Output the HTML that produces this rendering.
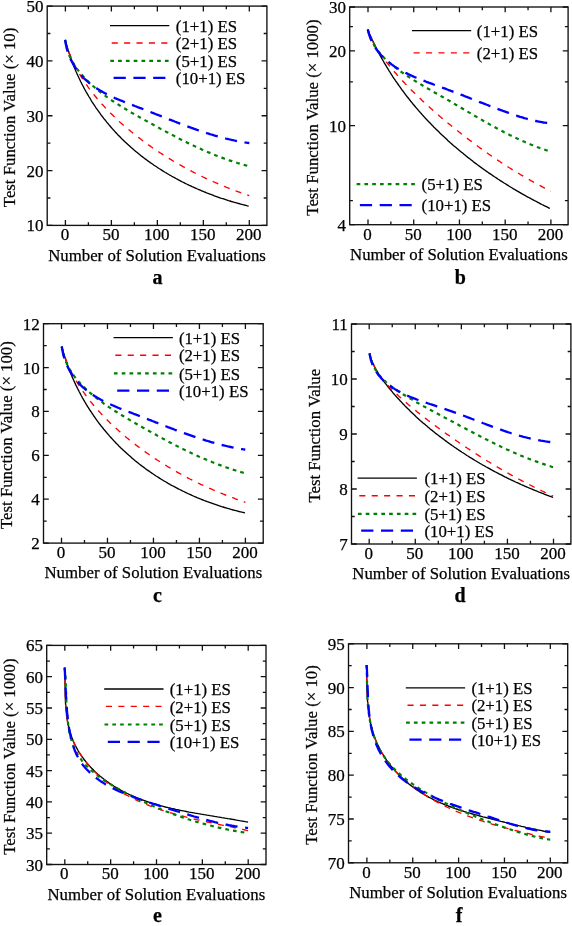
<!DOCTYPE html>
<html><head><meta charset="utf-8"><style>
html,body{margin:0;padding:0;background:#fff;}
svg{display:block;will-change:transform;filter:blur(0.3px);}
text{font-family:"Liberation Serif",serif;font-size:16.8px;fill:#000;stroke:#000;stroke-width:0.25px;}
.tk{font-size:17px;}
.lt{font-size:20px;font-weight:bold;}
</style></head><body>
<svg width="572" height="926" viewBox="0 0 572 926">
<rect x="47.2" y="6.1" width="219.7" height="219.3" fill="none" stroke="#111" stroke-width="1.35"/>
<path d="M65.4 225.4v-5.3M65.4 6.1v5.3M111.38 225.4v-5.3M111.38 6.1v5.3M157.35 225.4v-5.3M157.35 6.1v5.3M203.33 225.4v-5.3M203.33 6.1v5.3M249.3 225.4v-5.3M249.3 6.1v5.3M88.39 225.4v-3.2M88.39 6.1v3.2M134.36 225.4v-3.2M134.36 6.1v3.2M180.34 225.4v-3.2M180.34 6.1v3.2M226.31 225.4v-3.2M226.31 6.1v3.2M47.2 225.4h5.3M266.9 225.4h-5.3M47.2 170.57h5.3M266.9 170.57h-5.3M47.2 115.75h5.3M266.9 115.75h-5.3M47.2 60.93h5.3M266.9 60.93h-5.3M47.2 6.1h5.3M266.9 6.1h-5.3M47.2 197.99h3.2M266.9 197.99h-3.2M47.2 143.16h3.2M266.9 143.16h-3.2M47.2 88.34h3.2M266.9 88.34h-3.2M47.2 33.51h3.2M266.9 33.51h-3.2" stroke="#111" stroke-width="1.3" fill="none"/>
<text x="43.5" y="231.4" text-anchor="end" class="tk">10</text>
<text x="43.5" y="176.57" text-anchor="end" class="tk">20</text>
<text x="43.5" y="121.75" text-anchor="end" class="tk">30</text>
<text x="43.5" y="66.93" text-anchor="end" class="tk">40</text>
<text x="43.5" y="12.1" text-anchor="end" class="tk">50</text>
<text x="64.9" y="240.2" text-anchor="middle" class="tk">0</text>
<text x="110.88" y="240.2" text-anchor="middle" class="tk">50</text>
<text x="156.85" y="240.2" text-anchor="middle" class="tk">100</text>
<text x="202.83" y="240.2" text-anchor="middle" class="tk">150</text>
<text x="248.8" y="240.2" text-anchor="middle" class="tk">200</text>
<text x="157.05" y="260.7" text-anchor="middle">Number of Solution Evaluations</text>
<text transform="translate(15.3 117.45) rotate(-90)" text-anchor="middle">Test Function Value (× 10)</text>
<text x="157.6" y="284.2" text-anchor="middle" font-weight="bold" class="lt">a</text>
<rect x="349.7" y="7" width="218.4" height="217.7" fill="none" stroke="#111" stroke-width="1.35"/>
<path d="M368 224.7v-5.3M368 7v5.3M413.73 224.7v-5.3M413.73 7v5.3M459.45 224.7v-5.3M459.45 7v5.3M505.17 224.7v-5.3M505.17 7v5.3M550.9 224.7v-5.3M550.9 7v5.3M390.86 224.7v-3.2M390.86 7v3.2M436.59 224.7v-3.2M436.59 7v3.2M482.31 224.7v-3.2M482.31 7v3.2M528.04 224.7v-3.2M528.04 7v3.2M349.7 224.7h5.3M568.1 224.7h-5.3M349.7 125.7h5.3M568.1 125.7h-5.3M349.7 50.81h5.3M568.1 50.81h-5.3M349.7 7h5.3M568.1 7h-5.3M349.7 200.59h3.2M568.1 200.59h-3.2M349.7 81.89h3.2M568.1 81.89h-3.2M349.7 26.7h3.2M568.1 26.7h-3.2" stroke="#111" stroke-width="1.3" fill="none"/>
<text x="346" y="230.7" text-anchor="end" class="tk">4</text>
<text x="346" y="131.7" text-anchor="end" class="tk">10</text>
<text x="346" y="56.81" text-anchor="end" class="tk">20</text>
<text x="346" y="13" text-anchor="end" class="tk">30</text>
<text x="367.5" y="239.5" text-anchor="middle" class="tk">0</text>
<text x="413.23" y="239.5" text-anchor="middle" class="tk">50</text>
<text x="458.95" y="239.5" text-anchor="middle" class="tk">100</text>
<text x="504.67" y="239.5" text-anchor="middle" class="tk">150</text>
<text x="550.4" y="239.5" text-anchor="middle" class="tk">200</text>
<text x="458.9" y="260" text-anchor="middle">Number of Solution Evaluations</text>
<text transform="translate(317.8 117.55) rotate(-90)" text-anchor="middle">Test Function Value (× 1000)</text>
<text x="460.3" y="284.2" text-anchor="middle" font-weight="bold" class="lt">b</text>
<rect x="43.5" y="323.7" width="219.7" height="219.4" fill="none" stroke="#111" stroke-width="1.35"/>
<path d="M61.5 543.1v-5.3M61.5 323.7v5.3M107.47 543.1v-5.3M107.47 323.7v5.3M153.45 543.1v-5.3M153.45 323.7v5.3M199.43 543.1v-5.3M199.43 323.7v5.3M245.4 543.1v-5.3M245.4 323.7v5.3M84.49 543.1v-3.2M84.49 323.7v3.2M130.46 543.1v-3.2M130.46 323.7v3.2M176.44 543.1v-3.2M176.44 323.7v3.2M222.41 543.1v-3.2M222.41 323.7v3.2M43.5 543.1h5.3M263.2 543.1h-5.3M43.5 499.22h5.3M263.2 499.22h-5.3M43.5 455.34h5.3M263.2 455.34h-5.3M43.5 411.46h5.3M263.2 411.46h-5.3M43.5 367.58h5.3M263.2 367.58h-5.3M43.5 323.7h5.3M263.2 323.7h-5.3M43.5 521.16h3.2M263.2 521.16h-3.2M43.5 477.28h3.2M263.2 477.28h-3.2M43.5 433.4h3.2M263.2 433.4h-3.2M43.5 389.52h3.2M263.2 389.52h-3.2M43.5 345.64h3.2M263.2 345.64h-3.2" stroke="#111" stroke-width="1.3" fill="none"/>
<text x="39.8" y="549.1" text-anchor="end" class="tk">2</text>
<text x="39.8" y="505.22" text-anchor="end" class="tk">4</text>
<text x="39.8" y="461.34" text-anchor="end" class="tk">6</text>
<text x="39.8" y="417.46" text-anchor="end" class="tk">8</text>
<text x="39.8" y="373.58" text-anchor="end" class="tk">10</text>
<text x="39.8" y="329.7" text-anchor="end" class="tk">12</text>
<text x="61" y="557.9" text-anchor="middle" class="tk">0</text>
<text x="106.97" y="557.9" text-anchor="middle" class="tk">50</text>
<text x="152.95" y="557.9" text-anchor="middle" class="tk">100</text>
<text x="198.93" y="557.9" text-anchor="middle" class="tk">150</text>
<text x="244.9" y="557.9" text-anchor="middle" class="tk">200</text>
<text x="153.35" y="578.4" text-anchor="middle">Number of Solution Evaluations</text>
<text transform="translate(11.6 435.1) rotate(-90)" text-anchor="middle">Test Function Value (× 100)</text>
<text x="157.5" y="602.4" text-anchor="middle" font-weight="bold" class="lt">c</text>
<rect x="351.5" y="324" width="219.4" height="220" fill="none" stroke="#111" stroke-width="1.35"/>
<path d="M369.2 544v-5.3M369.2 324v5.3M415.27 544v-5.3M415.27 324v5.3M461.35 544v-5.3M461.35 324v5.3M507.42 544v-5.3M507.42 324v5.3M553.5 544v-5.3M553.5 324v5.3M392.24 544v-3.2M392.24 324v3.2M438.31 544v-3.2M438.31 324v3.2M484.39 544v-3.2M484.39 324v3.2M530.46 544v-3.2M530.46 324v3.2M351.5 544h5.3M570.9 544h-5.3M351.5 489h5.3M570.9 489h-5.3M351.5 434h5.3M570.9 434h-5.3M351.5 379h5.3M570.9 379h-5.3M351.5 324h5.3M570.9 324h-5.3M351.5 516.5h3.2M570.9 516.5h-3.2M351.5 461.5h3.2M570.9 461.5h-3.2M351.5 406.5h3.2M570.9 406.5h-3.2M351.5 351.5h3.2M570.9 351.5h-3.2" stroke="#111" stroke-width="1.3" fill="none"/>
<text x="347.8" y="550" text-anchor="end" class="tk">7</text>
<text x="347.8" y="495" text-anchor="end" class="tk">8</text>
<text x="347.8" y="440" text-anchor="end" class="tk">9</text>
<text x="347.8" y="385" text-anchor="end" class="tk">10</text>
<text x="347.8" y="330" text-anchor="end" class="tk">11</text>
<text x="368.7" y="558.8" text-anchor="middle" class="tk">0</text>
<text x="414.77" y="558.8" text-anchor="middle" class="tk">50</text>
<text x="460.85" y="558.8" text-anchor="middle" class="tk">100</text>
<text x="506.92" y="558.8" text-anchor="middle" class="tk">150</text>
<text x="553" y="558.8" text-anchor="middle" class="tk">200</text>
<text x="461.2" y="579.3" text-anchor="middle">Number of Solution Evaluations</text>
<text transform="translate(319.6 435.7) rotate(-90)" text-anchor="middle">Test Function Value</text>
<text x="460.1" y="602.4" text-anchor="middle" font-weight="bold" class="lt">d</text>
<rect x="46.7" y="645.4" width="219.3" height="219.1" fill="none" stroke="#111" stroke-width="1.35"/>
<path d="M64.8 864.5v-5.3M64.8 645.4v5.3M110.65 864.5v-5.3M110.65 645.4v5.3M156.5 864.5v-5.3M156.5 645.4v5.3M202.35 864.5v-5.3M202.35 645.4v5.3M248.2 864.5v-5.3M248.2 645.4v5.3M87.72 864.5v-3.2M87.72 645.4v3.2M133.57 864.5v-3.2M133.57 645.4v3.2M179.43 864.5v-3.2M179.43 645.4v3.2M225.27 864.5v-3.2M225.27 645.4v3.2M46.7 864.5h5.3M266 864.5h-5.3M46.7 833.2h5.3M266 833.2h-5.3M46.7 801.9h5.3M266 801.9h-5.3M46.7 770.6h5.3M266 770.6h-5.3M46.7 739.3h5.3M266 739.3h-5.3M46.7 708h5.3M266 708h-5.3M46.7 676.7h5.3M266 676.7h-5.3M46.7 645.4h5.3M266 645.4h-5.3M46.7 848.85h3.2M266 848.85h-3.2M46.7 817.55h3.2M266 817.55h-3.2M46.7 786.25h3.2M266 786.25h-3.2M46.7 754.95h3.2M266 754.95h-3.2M46.7 723.65h3.2M266 723.65h-3.2M46.7 692.35h3.2M266 692.35h-3.2M46.7 661.05h3.2M266 661.05h-3.2" stroke="#111" stroke-width="1.3" fill="none"/>
<text x="43" y="870.5" text-anchor="end" class="tk">30</text>
<text x="43" y="839.2" text-anchor="end" class="tk">35</text>
<text x="43" y="807.9" text-anchor="end" class="tk">40</text>
<text x="43" y="776.6" text-anchor="end" class="tk">45</text>
<text x="43" y="745.3" text-anchor="end" class="tk">50</text>
<text x="43" y="714" text-anchor="end" class="tk">55</text>
<text x="43" y="682.7" text-anchor="end" class="tk">60</text>
<text x="43" y="651.4" text-anchor="end" class="tk">65</text>
<text x="64.3" y="879.3" text-anchor="middle" class="tk">0</text>
<text x="110.15" y="879.3" text-anchor="middle" class="tk">50</text>
<text x="156" y="879.3" text-anchor="middle" class="tk">100</text>
<text x="201.85" y="879.3" text-anchor="middle" class="tk">150</text>
<text x="247.7" y="879.3" text-anchor="middle" class="tk">200</text>
<text x="156.35" y="899.8" text-anchor="middle">Number of Solution Evaluations</text>
<text transform="translate(14.8 756.65) rotate(-90)" text-anchor="middle">Test Function Value (× 1000)</text>
<text x="157.5" y="921.6" text-anchor="middle" font-weight="bold" class="lt">e</text>
<rect x="348.5" y="643.8" width="219.2" height="219" fill="none" stroke="#111" stroke-width="1.35"/>
<path d="M366.9 862.8v-5.3M366.9 643.8v5.3M412.75 862.8v-5.3M412.75 643.8v5.3M458.6 862.8v-5.3M458.6 643.8v5.3M504.45 862.8v-5.3M504.45 643.8v5.3M550.3 862.8v-5.3M550.3 643.8v5.3M389.82 862.8v-3.2M389.82 643.8v3.2M435.67 862.8v-3.2M435.67 643.8v3.2M481.52 862.8v-3.2M481.52 643.8v3.2M527.38 862.8v-3.2M527.38 643.8v3.2M348.5 862.8h5.3M567.7 862.8h-5.3M348.5 819h5.3M567.7 819h-5.3M348.5 775.2h5.3M567.7 775.2h-5.3M348.5 731.4h5.3M567.7 731.4h-5.3M348.5 687.6h5.3M567.7 687.6h-5.3M348.5 643.8h5.3M567.7 643.8h-5.3M348.5 840.9h3.2M567.7 840.9h-3.2M348.5 797.1h3.2M567.7 797.1h-3.2M348.5 753.3h3.2M567.7 753.3h-3.2M348.5 709.5h3.2M567.7 709.5h-3.2M348.5 665.7h3.2M567.7 665.7h-3.2" stroke="#111" stroke-width="1.3" fill="none"/>
<text x="344.8" y="868.8" text-anchor="end" class="tk">70</text>
<text x="344.8" y="825" text-anchor="end" class="tk">75</text>
<text x="344.8" y="781.2" text-anchor="end" class="tk">80</text>
<text x="344.8" y="737.4" text-anchor="end" class="tk">85</text>
<text x="344.8" y="693.6" text-anchor="end" class="tk">90</text>
<text x="344.8" y="649.8" text-anchor="end" class="tk">95</text>
<text x="366.4" y="877.6" text-anchor="middle" class="tk">0</text>
<text x="412.25" y="877.6" text-anchor="middle" class="tk">50</text>
<text x="458.1" y="877.6" text-anchor="middle" class="tk">100</text>
<text x="503.95" y="877.6" text-anchor="middle" class="tk">150</text>
<text x="549.8" y="877.6" text-anchor="middle" class="tk">200</text>
<text x="458.1" y="898.1" text-anchor="middle">Number of Solution Evaluations</text>
<text transform="translate(316.6 755) rotate(-90)" text-anchor="middle">Test Function Value (× 10)</text>
<text x="459.2" y="921.6" text-anchor="middle" font-weight="bold" class="lt">f</text>
<path d="M110 25.6H169.3" stroke="#000" stroke-width="1.35" fill="none"/>
<text x="175.8" y="31.7">(1+1) ES</text>
<path d="M111.7 43H169.3" stroke="#ff0000" stroke-width="1.35" fill="none" stroke-dasharray="6.1 6.3"/>
<text x="175.8" y="49.1">(2+1) ES</text>
<path d="M110.3 60.9H169.3" stroke="#008000" stroke-width="2.2" fill="none" stroke-dasharray="3.7 4.1"/>
<text x="175.8" y="67">(5+1) ES</text>
<path d="M113.6 77.9H169.3" stroke="#0000ff" stroke-width="2.3" fill="none" stroke-dasharray="12.2 7.6"/>
<text x="175.8" y="84">(10+1) ES</text>
<path d="M411.9 30.6H471.2" stroke="#000" stroke-width="1.35" fill="none"/>
<text x="476.8" y="36.7">(1+1) ES</text>
<path d="M413.6 52.8H471.2" stroke="#ff0000" stroke-width="1.35" fill="none" stroke-dasharray="6.1 6.3"/>
<text x="476.8" y="58.9">(2+1) ES</text>
<path d="M356.6 184.1H415.6" stroke="#008000" stroke-width="2.2" fill="none" stroke-dasharray="3.7 4.1"/>
<text x="421.6" y="190.2">(5+1) ES</text>
<path d="M359.9 205.2H415.6" stroke="#0000ff" stroke-width="2.3" fill="none" stroke-dasharray="12.2 7.6"/>
<text x="421.6" y="211.3">(10+1) ES</text>
<path d="M113.6 337.6H172.9" stroke="#000" stroke-width="1.35" fill="none"/>
<text x="178.9" y="343.7">(1+1) ES</text>
<path d="M115.3 355.2H172.9" stroke="#ff0000" stroke-width="1.35" fill="none" stroke-dasharray="6.1 6.3"/>
<text x="178.9" y="361.3">(2+1) ES</text>
<path d="M113.9 373.4H172.9" stroke="#008000" stroke-width="2.2" fill="none" stroke-dasharray="3.7 4.1"/>
<text x="178.9" y="379.5">(5+1) ES</text>
<path d="M117.2 390.7H172.9" stroke="#0000ff" stroke-width="2.3" fill="none" stroke-dasharray="12.2 7.6"/>
<text x="178.9" y="396.8">(10+1) ES</text>
<path d="M357.6 478.1H416.9" stroke="#000" stroke-width="1.35" fill="none"/>
<text x="424.5" y="484.2">(1+1) ES</text>
<path d="M359.3 495.7H416.9" stroke="#ff0000" stroke-width="1.35" fill="none" stroke-dasharray="6.1 6.3"/>
<text x="424.5" y="501.8">(2+1) ES</text>
<path d="M357.9 513.8H416.9" stroke="#008000" stroke-width="2.2" fill="none" stroke-dasharray="3.7 4.1"/>
<text x="424.5" y="519.9">(5+1) ES</text>
<path d="M361.2 530.6H416.9" stroke="#0000ff" stroke-width="2.3" fill="none" stroke-dasharray="12.2 7.6"/>
<text x="424.5" y="536.7">(10+1) ES</text>
<path d="M104.2 689H163.5" stroke="#000" stroke-width="1.35" fill="none"/>
<text x="169.7" y="695.1">(1+1) ES</text>
<path d="M105.9 706.4H163.5" stroke="#ff0000" stroke-width="1.35" fill="none" stroke-dasharray="6.1 6.3"/>
<text x="169.7" y="712.5">(2+1) ES</text>
<path d="M104.5 724.5H163.5" stroke="#008000" stroke-width="2.2" fill="none" stroke-dasharray="3.7 4.1"/>
<text x="169.7" y="730.6">(5+1) ES</text>
<path d="M107.8 741.9H163.5" stroke="#0000ff" stroke-width="2.3" fill="none" stroke-dasharray="12.2 7.6"/>
<text x="169.7" y="748">(10+1) ES</text>
<path d="M405.8 687.9H465.1" stroke="#000" stroke-width="1.35" fill="none"/>
<text x="471.4" y="694">(1+1) ES</text>
<path d="M407.5 705.2H465.1" stroke="#ff0000" stroke-width="1.35" fill="none" stroke-dasharray="6.1 6.3"/>
<text x="471.4" y="711.3">(2+1) ES</text>
<path d="M406.1 722.6H465.1" stroke="#008000" stroke-width="2.2" fill="none" stroke-dasharray="3.7 4.1"/>
<text x="471.4" y="728.7">(5+1) ES</text>
<path d="M409.4 739.6H465.1" stroke="#0000ff" stroke-width="2.3" fill="none" stroke-dasharray="12.2 7.6"/>
<text x="471.4" y="745.7">(10+1) ES</text>
<path d="M65.2 39.8 65.6 41.3 66.0 42.7 66.4 44.2 66.8 45.6 67.2 47.1 67.7 48.5 68.1 50.0 68.6 51.4 69.0 52.9 69.5 54.3 70.0 55.7 70.5 57.1 71.0 58.6 71.5 60.0 72.0 61.4 72.5 62.8 73.1 64.2 73.6 65.6 74.2 67.0 74.7 68.4 75.3 69.8 75.9 71.2 76.5 72.5 77.1 73.9 77.7 75.3 78.4 76.6 79.0 78.0 79.6 79.3 80.3 80.7 80.9 82.0 81.6 83.4 82.3 84.7 83.0 86.0 83.7 87.4 84.4 88.7 85.1 90.0 85.8 91.3 86.6 92.6 87.3 93.9 88.1 95.2 88.8 96.5 89.6 97.7 90.4 99.0 91.1 100.3 91.9 101.6 92.7 102.8 93.6 104.1 94.4 105.3 95.2 106.5 96.0 107.8 96.9 109.0 97.7 110.2 98.6 111.4 99.5 112.7 100.4 113.9 101.2 115.1 102.1 116.2 103.0 117.4 103.9 118.6 104.9 119.8 105.8 120.9 106.7 122.1 107.7 123.2 108.6 124.4 109.6 125.5 110.6 126.7 111.5 127.8 112.5 128.9 113.5 130.0 114.5 131.1 115.5 132.2 116.5 133.3 117.5 134.4 118.6 135.5 119.6 136.5 120.7 137.6 121.7 138.7 122.8 139.7 123.8 140.7 124.9 141.8 126.0 142.8 127.1 143.8 128.2 144.8 129.3 145.8 130.4 146.8 131.5 147.8 132.7 148.8 133.8 149.8 134.9 150.7 136.1 151.7 137.2 152.6 138.4 153.6 139.5 154.5 140.7 155.4 141.9 156.4 143.1 157.3 144.3 158.2 145.5 159.1 146.7 160.0 147.9 160.9 149.1 161.7 150.3 162.6 151.6 163.5 152.8 164.3 154.0 165.2 155.3 166.0 156.5 166.8 157.8 167.7 159.0 168.5 160.3 169.3 161.6 170.1 162.8 170.9 164.1 171.7 165.4 172.5 166.7 173.2 168.0 174.0 169.3 174.8 170.6 175.5 171.9 176.3 173.2 177.0 174.5 177.7 175.9 178.5 177.2 179.2 178.5 179.9 179.9 180.6 181.2 181.3 182.5 182.0 183.9 182.6 185.2 183.3 186.6 184.0 187.9 184.6 189.3 185.3 190.7 185.9 192.0 186.6 193.4 187.2 194.8 187.8 196.2 188.4 197.5 189.0 198.9 189.6 200.3 190.2 201.7 190.8 203.1 191.4 204.5 192.0 205.9 192.5 207.3 193.1 208.7 193.6 210.1 194.2 211.5 194.7 212.9 195.2 214.3 195.8 215.8 196.3 217.2 196.8 218.6 197.3 220.0 197.8 221.4 198.3 222.9 198.7 224.3 199.2 225.7 199.7 227.1 200.1 228.6 200.6 230.0 201.0 231.4 201.5 232.9 201.9 234.3 202.3 235.7 202.7 237.2 203.1 238.6 203.5 240.1 203.9 241.5 204.3 242.9 204.7 244.4 205.0 245.8 205.4 247.3 205.8 248.7 206.1" stroke="#000" stroke-width="1.35" fill="none" stroke-linejoin="round"/>
<path d="M65.2 39.8 65.5 41.3 65.9 42.7 66.4 44.2 66.8 45.6 67.2 47.0 67.7 48.4 68.2 49.9 68.7 51.3 69.2 52.7 69.8 54.0 70.3 55.4 70.9 56.8 71.5 58.2 72.1 59.5 72.7 60.9 73.3 62.3 74.0 63.6 74.6 64.9 75.3 66.3 76.0 67.6 76.7 68.9 77.4 70.2 78.1 71.5 78.9 72.8 79.6 74.1 80.4 75.4 81.2 76.7 82.0 77.9 82.8 79.2 83.6 80.4 84.4 81.7 85.2 82.9 86.1 84.2 87.0 85.4 87.8 86.6 88.7 87.8 89.6 89.1 90.5 90.3 91.4 91.5 92.3 92.6 93.3 93.8 94.2 95.0 95.2 96.2 96.1 97.3 97.1 98.5 98.1 99.6 99.0 100.8 100.0 101.9 101.0 103.1 102.0 104.2 103.1 105.3 104.1 106.4 105.1 107.5 106.2 108.6 107.2 109.7 108.3 110.8 109.3 111.9 110.4 113.0 111.5 114.0 112.6 115.1 113.7 116.2 114.8 117.2 115.9 118.3 117.0 119.3 118.1 120.3 119.2 121.4 120.3 122.4 121.5 123.4 122.6 124.4 123.8 125.4 124.9 126.4 126.1 127.4 127.2 128.4 128.4 129.3 129.6 130.3 130.7 131.3 131.9 132.2 133.1 133.2 134.3 134.1 135.5 135.1 136.7 136.0 137.9 137.0 139.1 137.9 140.3 138.8 141.5 139.7 142.7 140.6 143.9 141.5 145.1 142.4 146.3 143.3 147.6 144.2 148.8 145.1 150.0 145.9 151.2 146.8 152.5 147.7 153.7 148.5 155.0 149.4 156.2 150.2 157.5 151.1 158.7 151.9 160.0 152.7 161.2 153.5 162.5 154.4 163.7 155.2 165.0 156.0 166.3 156.8 167.6 157.6 168.8 158.4 170.1 159.1 171.4 159.9 172.7 160.7 174.0 161.5 175.3 162.2 176.6 163.0 177.9 163.7 179.2 164.5 180.5 165.2 181.8 165.9 183.1 166.7 184.4 167.4 185.7 168.1 187.0 168.8 188.4 169.5 189.7 170.2 191.0 170.9 192.3 171.6 193.7 172.3 195.0 173.0 196.3 173.7 197.7 174.3 199.0 175.0 200.4 175.7 201.7 176.3 203.1 177.0 204.4 177.6 205.8 178.3 207.2 178.9 208.5 179.5 209.9 180.1 211.3 180.8 212.6 181.4 214.0 182.0 215.4 182.6 216.8 183.2 218.1 183.8 219.5 184.4 220.9 185.0 222.3 185.5 223.7 186.1 225.1 186.7 226.5 187.3 227.9 187.8 229.3 188.4 230.7 188.9 232.1 189.5 233.5 190.0 234.9 190.6 236.3 191.1 237.8 191.6 239.2 192.1 240.6 192.7 242.0 193.2 243.5 193.7 244.9 194.2 246.3 194.7 247.8 195.2 249.2 195.7" stroke="#ff0000" stroke-width="1.35" fill="none" stroke-linejoin="round" stroke-dasharray="6.1 6.3"/>
<path d="M65.2 39.8 65.4 41.4 65.6 42.9 65.9 44.4 66.3 45.9 66.6 47.4 67.0 48.8 67.5 50.2 67.9 51.7 68.4 53.1 69.0 54.4 69.5 55.8 70.1 57.2 70.8 58.5 71.4 59.8 72.1 61.1 72.8 62.4 73.6 63.7 74.4 64.9 75.2 66.1 76.0 67.4 76.8 68.6 77.7 69.8 78.6 70.9 79.5 72.1 80.4 73.2 81.4 74.4 82.4 75.5 83.4 76.6 84.4 77.7 85.4 78.8 86.5 79.9 87.5 80.9 88.6 82.0 89.7 83.0 90.8 84.0 91.9 85.0 93.0 86.0 94.2 87.0 95.3 88.0 96.5 88.9 97.6 89.9 98.8 90.8 100.0 91.8 101.2 92.7 102.4 93.6 103.6 94.5 104.8 95.4 106.0 96.3 107.2 97.2 108.5 98.1 109.7 98.9 111.0 99.8 112.2 100.7 113.5 101.5 114.7 102.3 116.0 103.2 117.3 104.0 118.6 104.8 119.9 105.6 121.2 106.4 122.4 107.2 123.7 108.0 125.1 108.8 126.4 109.6 127.7 110.4 129.0 111.1 130.3 111.9 131.6 112.7 132.9 113.4 134.3 114.2 135.6 114.9 136.9 115.7 138.2 116.4 139.6 117.2 140.9 117.9 142.2 118.7 143.6 119.4 144.9 120.1 146.2 120.9 147.6 121.6 148.9 122.3 150.2 123.1 151.5 123.8 152.9 124.5 154.2 125.3 155.5 126.0 156.9 126.7 158.2 127.4 159.5 128.2 160.8 128.9 162.2 129.6 163.5 130.3 164.8 131.0 166.1 131.7 167.5 132.4 168.8 133.1 170.1 133.8 171.4 134.6 172.8 135.2 174.1 135.9 175.4 136.6 176.8 137.3 178.1 138.0 179.4 138.7 180.8 139.4 182.1 140.0 183.4 140.7 184.8 141.4 186.1 142.0 187.4 142.7 188.8 143.4 190.1 144.0 191.5 144.7 192.8 145.3 194.2 145.9 195.5 146.6 196.9 147.2 198.2 147.8 199.6 148.5 201.0 149.1 202.3 149.7 203.7 150.3 205.0 150.9 206.4 151.5 207.8 152.1 209.2 152.6 210.6 153.2 211.9 153.8 213.3 154.4 214.7 154.9 216.1 155.5 217.5 156.0 218.9 156.6 220.3 157.1 221.7 157.6 223.1 158.1 224.5 158.7 225.9 159.2 227.4 159.7 228.8 160.2 230.2 160.6 231.7 161.1 233.1 161.6 234.5 162.1 236.0 162.5 237.4 163.0 238.9 163.4 240.4 163.8 241.8 164.3 243.3 164.7 244.8 165.1 246.3 165.5 247.7 165.9 249.2 166.3" stroke="#008000" stroke-width="2.2" fill="none" stroke-linejoin="round" stroke-dasharray="3.7 4.1"/>
<path d="M65.2 39.8 65.4 41.4 65.7 43.0 65.9 44.6 66.3 46.2 66.6 47.7 67.0 49.2 67.4 50.7 67.9 52.2 68.4 53.7 68.9 55.1 69.5 56.5 70.0 57.9 70.6 59.3 71.3 60.6 72.0 62.0 72.7 63.3 73.4 64.5 74.1 65.8 74.9 67.0 75.7 68.3 76.5 69.5 77.4 70.6 78.3 71.8 79.2 72.9 80.1 74.0 81.1 75.1 82.0 76.2 83.0 77.2 84.0 78.3 85.1 79.3 86.1 80.2 87.2 81.2 88.3 82.1 89.4 83.1 90.5 84.0 91.7 84.8 92.9 85.7 94.1 86.5 95.3 87.4 96.5 88.2 97.7 89.0 98.9 89.7 100.2 90.5 101.5 91.2 102.8 92.0 104.1 92.7 105.4 93.4 106.7 94.1 108.0 94.7 109.4 95.4 110.7 96.1 112.1 96.7 113.5 97.3 114.8 98.0 116.2 98.6 117.6 99.2 119.0 99.8 120.4 100.4 121.9 100.9 123.3 101.5 124.7 102.1 126.1 102.7 127.6 103.2 129.0 103.8 130.4 104.3 131.9 104.9 133.3 105.4 134.8 106.0 136.2 106.5 137.6 107.1 139.1 107.6 140.5 108.2 142.0 108.7 143.4 109.3 144.8 109.8 146.3 110.4 147.7 110.9 149.1 111.5 150.5 112.0 152.0 112.6 153.4 113.1 154.8 113.7 156.2 114.3 157.7 114.8 159.1 115.4 160.5 115.9 161.9 116.5 163.3 117.0 164.7 117.6 166.1 118.2 167.6 118.7 169.0 119.3 170.4 119.8 171.8 120.4 173.2 120.9 174.6 121.5 176.0 122.0 177.4 122.6 178.8 123.1 180.2 123.7 181.6 124.2 183.0 124.7 184.4 125.3 185.8 125.8 187.3 126.3 188.7 126.8 190.1 127.3 191.5 127.9 192.9 128.4 194.3 128.9 195.7 129.4 197.1 129.9 198.5 130.3 199.9 130.8 201.4 131.3 202.8 131.8 204.2 132.3 205.6 132.7 207.0 133.2 208.5 133.6 209.9 134.1 211.3 134.5 212.7 134.9 214.2 135.4 215.6 135.8 217.0 136.2 218.5 136.6 219.9 137.0 221.3 137.4 222.8 137.8 224.2 138.1 225.7 138.5 227.1 138.8 228.6 139.2 230.0 139.5 231.5 139.9 233.0 140.2 234.4 140.5 235.9 140.8 237.4 141.1 238.8 141.4 240.3 141.6 241.8 141.9 243.3 142.1 244.8 142.4 246.3 142.6 247.8 142.8 249.3 143.0" stroke="#0000ff" stroke-width="2.3" fill="none" stroke-linejoin="round" stroke-dasharray="12.2 7.6"/>
<path d="M367.8 29.5 368.3 30.9 368.9 32.3 369.5 33.7 370.1 35.0 370.7 36.4 371.4 37.8 372.0 39.2 372.6 40.5 373.3 41.9 373.9 43.2 374.6 44.6 375.2 45.9 375.9 47.3 376.6 48.6 377.3 50.0 377.9 51.3 378.6 52.6 379.3 53.9 380.0 55.3 380.8 56.6 381.5 57.9 382.2 59.2 383.0 60.5 383.7 61.8 384.4 63.1 385.2 64.4 386.0 65.7 386.7 66.9 387.5 68.2 388.3 69.5 389.1 70.8 389.9 72.0 390.7 73.3 391.5 74.6 392.3 75.8 393.1 77.1 393.9 78.3 394.8 79.5 395.6 80.8 396.5 82.0 397.3 83.2 398.2 84.5 399.0 85.7 399.9 86.9 400.8 88.1 401.6 89.3 402.5 90.5 403.4 91.7 404.3 92.9 405.2 94.1 406.1 95.3 407.0 96.5 408.0 97.7 408.9 98.8 409.8 100.0 410.7 101.2 411.7 102.3 412.6 103.5 413.6 104.7 414.5 105.8 415.5 107.0 416.5 108.1 417.5 109.2 418.4 110.4 419.4 111.5 420.4 112.6 421.4 113.7 422.4 114.9 423.4 116.0 424.4 117.1 425.4 118.2 426.4 119.3 427.5 120.4 428.5 121.5 429.5 122.5 430.6 123.6 431.6 124.7 432.7 125.8 433.7 126.9 434.8 127.9 435.8 129.0 436.9 130.0 438.0 131.1 439.0 132.1 440.1 133.2 441.2 134.2 442.3 135.3 443.4 136.3 444.5 137.3 445.6 138.3 446.7 139.3 447.8 140.4 448.9 141.4 450.0 142.4 451.2 143.4 452.3 144.4 453.4 145.4 454.6 146.4 455.7 147.3 456.8 148.3 458.0 149.3 459.1 150.3 460.3 151.2 461.5 152.2 462.6 153.1 463.8 154.1 465.0 155.0 466.1 156.0 467.3 156.9 468.5 157.9 469.7 158.8 470.9 159.7 472.0 160.6 473.2 161.6 474.4 162.5 475.6 163.4 476.8 164.3 478.1 165.2 479.3 166.1 480.5 167.0 481.7 167.9 482.9 168.7 484.1 169.6 485.4 170.5 486.6 171.4 487.8 172.2 489.1 173.1 490.3 173.9 491.6 174.8 492.8 175.6 494.0 176.5 495.3 177.3 496.6 178.1 497.8 179.0 499.1 179.8 500.3 180.6 501.6 181.4 502.9 182.2 504.1 183.0 505.4 183.8 506.7 184.6 508.0 185.4 509.2 186.2 510.5 187.0 511.8 187.8 513.1 188.6 514.4 189.3 515.7 190.1 517.0 190.9 518.3 191.6 519.6 192.4 520.9 193.1 522.2 193.9 523.5 194.6 524.8 195.3 526.1 196.1 527.4 196.8 528.7 197.5 530.0 198.2 531.3 198.9 532.7 199.6 534.0 200.3 535.3 201.0 536.6 201.7 537.9 202.4 539.3 203.1 540.6 203.8 541.9 204.5 543.3 205.1 544.6 205.8 545.9 206.4 547.3 207.1 548.6 207.8 549.9 208.4" stroke="#000" stroke-width="1.35" fill="none" stroke-linejoin="round"/>
<path d="M367.8 29.5 368.2 30.9 368.7 32.3 369.2 33.7 369.8 35.1 370.4 36.4 371.0 37.8 371.6 39.1 372.2 40.4 372.9 41.8 373.6 43.1 374.3 44.4 375.0 45.6 375.8 46.9 376.6 48.2 377.4 49.5 378.2 50.7 379.0 52.0 379.9 53.2 380.7 54.4 381.6 55.7 382.5 56.9 383.4 58.1 384.3 59.3 385.2 60.5 386.1 61.7 387.1 62.9 388.0 64.1 389.0 65.2 389.9 66.4 390.9 67.6 391.9 68.7 392.8 69.9 393.8 71.0 394.8 72.2 395.8 73.3 396.8 74.5 397.8 75.6 398.8 76.7 399.8 77.8 400.8 79.0 401.9 80.1 402.9 81.2 403.9 82.3 404.9 83.4 406.0 84.5 407.0 85.6 408.1 86.6 409.1 87.7 410.2 88.8 411.2 89.9 412.3 90.9 413.4 92.0 414.4 93.1 415.5 94.1 416.6 95.2 417.7 96.2 418.8 97.3 419.9 98.3 421.0 99.3 422.1 100.4 423.2 101.4 424.3 102.4 425.4 103.4 426.5 104.5 427.6 105.5 428.7 106.5 429.8 107.5 431.0 108.5 432.1 109.5 433.2 110.5 434.3 111.5 435.5 112.5 436.6 113.5 437.7 114.4 438.9 115.4 440.0 116.4 441.2 117.4 442.3 118.4 443.5 119.3 444.6 120.3 445.8 121.3 447.0 122.2 448.1 123.2 449.3 124.1 450.4 125.1 451.6 126.1 452.8 127.0 454.0 127.9 455.1 128.9 456.3 129.8 457.5 130.8 458.7 131.7 459.8 132.6 461.0 133.6 462.2 134.5 463.4 135.4 464.6 136.3 465.8 137.3 467.0 138.2 468.2 139.1 469.4 140.0 470.6 140.9 471.8 141.8 473.0 142.7 474.2 143.6 475.4 144.5 476.6 145.4 477.8 146.3 479.1 147.2 480.3 148.1 481.5 148.9 482.7 149.8 483.9 150.7 485.2 151.6 486.4 152.4 487.6 153.3 488.9 154.2 490.1 155.0 491.3 155.9 492.6 156.7 493.8 157.6 495.1 158.4 496.3 159.2 497.6 160.1 498.8 160.9 500.1 161.8 501.3 162.6 502.6 163.4 503.9 164.2 505.1 165.0 506.4 165.8 507.7 166.7 508.9 167.5 510.2 168.3 511.5 169.1 512.8 169.9 514.1 170.7 515.3 171.4 516.6 172.2 517.9 173.0 519.2 173.8 520.5 174.6 521.8 175.3 523.1 176.1 524.4 176.8 525.7 177.6 527.0 178.4 528.3 179.1 529.6 179.8 530.9 180.6 532.2 181.3 533.6 182.1 534.9 182.8 536.2 183.5 537.5 184.2 538.8 185.0 540.2 185.7 541.5 186.4 542.8 187.1 544.2 187.8 545.5 188.5 546.9 189.2 548.2 189.9 549.5 190.5 550.9 191.2" stroke="#ff0000" stroke-width="1.35" fill="none" stroke-linejoin="round" stroke-dasharray="6.1 6.3"/>
<path d="M367.8 29.5 368.2 31.1 368.6 32.6 369.0 34.1 369.5 35.6 370.1 37.0 370.7 38.4 371.3 39.8 371.9 41.2 372.6 42.5 373.3 43.8 374.0 45.1 374.8 46.3 375.6 47.6 376.4 48.8 377.3 50.0 378.2 51.1 379.1 52.3 380.0 53.4 381.0 54.5 382.0 55.6 383.0 56.6 384.0 57.7 385.0 58.7 386.1 59.7 387.2 60.7 388.3 61.7 389.4 62.7 390.5 63.6 391.6 64.6 392.8 65.5 394.0 66.4 395.1 67.3 396.3 68.2 397.5 69.1 398.7 70.0 399.9 70.9 401.1 71.8 402.4 72.6 403.6 73.5 404.8 74.3 406.1 75.2 407.3 76.0 408.6 76.8 409.9 77.7 411.1 78.5 412.4 79.3 413.7 80.1 415.0 80.9 416.3 81.7 417.6 82.5 418.9 83.3 420.2 84.0 421.5 84.8 422.8 85.6 424.1 86.4 425.4 87.1 426.8 87.9 428.1 88.7 429.4 89.4 430.7 90.2 432.1 91.0 433.4 91.7 434.7 92.5 436.0 93.2 437.4 94.0 438.7 94.7 440.0 95.5 441.3 96.3 442.7 97.0 444.0 97.8 445.3 98.5 446.6 99.3 447.9 100.1 449.3 100.8 450.6 101.6 451.9 102.4 453.2 103.1 454.5 103.9 455.8 104.7 457.1 105.4 458.4 106.2 459.7 107.0 461.0 107.8 462.3 108.5 463.6 109.3 464.9 110.1 466.2 110.8 467.6 111.6 468.9 112.4 470.2 113.1 471.5 113.9 472.8 114.6 474.1 115.4 475.4 116.2 476.7 116.9 478.0 117.7 479.3 118.4 480.6 119.2 481.9 119.9 483.2 120.7 484.5 121.4 485.8 122.1 487.1 122.9 488.4 123.6 489.7 124.4 491.0 125.1 492.3 125.8 493.6 126.5 495.0 127.2 496.3 128.0 497.6 128.7 498.9 129.4 500.2 130.1 501.6 130.8 502.9 131.5 504.2 132.2 505.5 132.8 506.9 133.5 508.2 134.2 509.5 134.9 510.9 135.5 512.2 136.2 513.6 136.8 514.9 137.5 516.3 138.1 517.6 138.8 519.0 139.4 520.4 140.0 521.7 140.6 523.1 141.2 524.5 141.8 525.8 142.4 527.2 143.0 528.6 143.6 530.0 144.2 531.4 144.8 532.8 145.3 534.2 145.9 535.6 146.4 537.0 147.0 538.4 147.5 539.8 148.0 541.3 148.5 542.7 149.0 544.1 149.5 545.6 150.0 547.0 150.5 548.4 151.0 549.9 151.4" stroke="#008000" stroke-width="2.2" fill="none" stroke-linejoin="round" stroke-dasharray="3.7 4.1"/>
<path d="M367.8 29.5 368.2 31.1 368.6 32.7 369.0 34.2 369.5 35.8 370.1 37.2 370.6 38.7 371.2 40.1 371.9 41.5 372.5 42.9 373.2 44.2 374.0 45.5 374.7 46.7 375.5 48.0 376.3 49.2 377.2 50.4 378.1 51.5 379.0 52.7 379.9 53.8 380.9 54.9 381.8 55.9 382.8 56.9 383.9 58.0 384.9 58.9 386.0 59.9 387.1 60.8 388.2 61.8 389.3 62.7 390.5 63.6 391.6 64.4 392.8 65.3 394.0 66.1 395.2 66.9 396.5 67.7 397.7 68.4 399.0 69.2 400.3 69.9 401.5 70.7 402.8 71.4 404.2 72.1 405.5 72.8 406.8 73.4 408.2 74.1 409.5 74.7 410.9 75.4 412.3 76.0 413.6 76.6 415.0 77.2 416.4 77.8 417.8 78.4 419.3 79.0 420.7 79.6 422.1 80.1 423.5 80.7 425.0 81.2 426.4 81.8 427.8 82.3 429.3 82.9 430.7 83.4 432.2 83.9 433.6 84.5 435.1 85.0 436.5 85.5 438.0 86.1 439.4 86.6 440.9 87.1 442.3 87.6 443.7 88.2 445.2 88.7 446.6 89.2 448.1 89.8 449.5 90.3 450.9 90.9 452.3 91.4 453.8 91.9 455.2 92.5 456.6 93.0 458.0 93.6 459.4 94.1 460.8 94.7 462.3 95.2 463.7 95.7 465.1 96.3 466.5 96.8 467.9 97.4 469.3 97.9 470.7 98.5 472.1 99.0 473.5 99.6 474.9 100.1 476.3 100.7 477.7 101.2 479.1 101.8 480.5 102.3 481.9 102.8 483.3 103.4 484.7 103.9 486.1 104.5 487.5 105.0 488.9 105.6 490.3 106.1 491.7 106.6 493.1 107.2 494.5 107.7 495.9 108.2 497.3 108.8 498.7 109.3 500.2 109.8 501.6 110.3 503.0 110.9 504.4 111.4 505.8 111.9 507.2 112.4 508.6 112.9 510.0 113.4 511.5 113.9 512.9 114.4 514.3 114.9 515.7 115.4 517.2 115.8 518.6 116.3 520.0 116.8 521.5 117.2 522.9 117.6 524.3 118.1 525.8 118.5 527.2 118.9 528.7 119.3 530.1 119.6 531.6 120.0 533.1 120.4 534.5 120.7 536.0 121.0 537.5 121.3 538.9 121.6 540.4 121.9 541.9 122.2 543.4 122.5 544.9 122.7 546.4 122.9 547.9 123.1 549.4 123.3 550.9 123.5" stroke="#0000ff" stroke-width="2.3" fill="none" stroke-linejoin="round" stroke-dasharray="12.2 7.6"/>
<path d="M61.8 346.5 62.2 348.0 62.6 349.4 63.0 350.9 63.4 352.3 63.8 353.8 64.3 355.2 64.7 356.7 65.2 358.1 65.6 359.5 66.1 361.0 66.6 362.4 67.1 363.8 67.6 365.2 68.1 366.7 68.7 368.1 69.2 369.5 69.7 370.9 70.3 372.3 70.9 373.7 71.4 375.1 72.0 376.5 72.6 377.9 73.2 379.2 73.8 380.6 74.5 382.0 75.1 383.4 75.7 384.7 76.4 386.1 77.0 387.4 77.7 388.8 78.4 390.1 79.1 391.5 79.8 392.8 80.5 394.1 81.2 395.5 81.9 396.8 82.6 398.1 83.4 399.4 84.1 400.7 84.9 402.0 85.7 403.3 86.4 404.6 87.2 405.9 88.0 407.2 88.8 408.4 89.6 409.7 90.5 411.0 91.3 412.2 92.1 413.5 93.0 414.7 93.8 416.0 94.7 417.2 95.5 418.4 96.4 419.6 97.3 420.9 98.2 422.1 99.1 423.3 100.0 424.5 100.9 425.7 101.9 426.8 102.8 428.0 103.7 429.2 104.7 430.3 105.7 431.5 106.6 432.6 107.6 433.8 108.6 434.9 109.6 436.1 110.6 437.2 111.6 438.3 112.6 439.4 113.6 440.5 114.6 441.6 115.7 442.7 116.7 443.8 117.8 444.8 118.8 445.9 119.9 447.0 120.9 448.0 122.0 449.0 123.1 450.1 124.2 451.1 125.3 452.1 126.4 453.1 127.5 454.1 128.6 455.1 129.8 456.1 130.9 457.1 132.0 458.1 133.2 459.0 134.3 460.0 135.5 461.0 136.7 461.9 137.8 462.8 139.0 463.8 140.2 464.7 141.4 465.6 142.6 466.5 143.8 467.4 145.0 468.3 146.2 469.2 147.4 470.1 148.7 470.9 149.9 471.8 151.1 472.6 152.4 473.5 153.6 474.3 154.9 475.2 156.1 476.0 157.4 476.8 158.7 477.6 159.9 478.4 161.2 479.2 162.5 480.0 163.8 480.8 165.1 481.5 166.4 482.3 167.7 483.1 169.0 483.8 170.3 484.6 171.6 485.3 173.0 486.0 174.3 486.7 175.6 487.4 177.0 488.1 178.3 488.8 179.6 489.5 181.0 490.2 182.3 490.9 183.7 491.5 185.1 492.2 186.4 492.8 187.8 493.5 189.2 494.1 190.5 494.7 191.9 495.4 193.3 496.0 194.7 496.6 196.1 497.2 197.5 497.8 198.9 498.3 200.3 498.9 201.7 499.5 203.1 500.0 204.5 500.6 205.9 501.1 207.3 501.7 208.7 502.2 210.2 502.7 211.6 503.2 213.0 503.7 214.4 504.2 215.9 504.7 217.3 505.2 218.7 505.7 220.2 506.1 221.6 506.6 223.1 507.0 224.5 507.5 226.0 507.9 227.4 508.3 228.9 508.7 230.3 509.2 231.8 509.6 233.2 510.0 234.7 510.3 236.1 510.7 237.6 511.1 239.1 511.5 240.5 511.8 242.0 512.2 243.5 512.5 244.9 512.8" stroke="#000" stroke-width="1.35" fill="none" stroke-linejoin="round"/>
<path d="M61.8 346.5 62.1 348.0 62.5 349.4 63.0 350.9 63.4 352.3 63.8 353.7 64.3 355.1 64.8 356.6 65.3 358.0 65.8 359.4 66.4 360.7 66.9 362.1 67.5 363.5 68.1 364.9 68.7 366.2 69.3 367.6 69.9 369.0 70.6 370.3 71.2 371.6 71.9 373.0 72.6 374.3 73.3 375.6 74.0 376.9 74.7 378.2 75.5 379.5 76.2 380.8 77.0 382.1 77.8 383.4 78.5 384.6 79.3 385.9 80.2 387.1 81.0 388.4 81.8 389.6 82.7 390.9 83.5 392.1 84.4 393.3 85.3 394.5 86.2 395.8 87.1 397.0 88.0 398.2 88.9 399.3 89.8 400.5 90.7 401.7 91.7 402.9 92.6 404.0 93.6 405.2 94.6 406.3 95.6 407.5 96.5 408.6 97.5 409.8 98.5 410.9 99.6 412.0 100.6 413.1 101.6 414.2 102.6 415.3 103.7 416.4 104.7 417.5 105.8 418.6 106.9 419.7 107.9 420.7 109.0 421.8 110.1 422.9 111.2 423.9 112.3 424.9 113.4 426.0 114.5 427.0 115.6 428.0 116.8 429.1 117.9 430.1 119.0 431.1 120.2 432.1 121.3 433.1 122.4 434.1 123.6 435.1 124.8 436.0 125.9 437.0 127.1 438.0 128.3 438.9 129.5 439.9 130.6 440.8 131.8 441.8 133.0 442.7 134.2 443.6 135.4 444.6 136.6 445.5 137.8 446.4 139.0 447.3 140.2 448.2 141.4 449.1 142.7 450.0 143.9 450.9 145.1 451.7 146.3 452.6 147.6 453.5 148.8 454.3 150.0 455.2 151.3 456.0 152.5 456.9 153.8 457.7 155.0 458.6 156.3 459.4 157.5 460.2 158.8 461.0 160.1 461.8 161.3 462.6 162.6 463.4 163.9 464.2 165.1 465.0 166.4 465.8 167.7 466.6 169.0 467.3 170.3 468.1 171.6 468.9 172.9 469.6 174.2 470.4 175.5 471.1 176.8 471.9 178.1 472.6 179.4 473.3 180.7 474.0 182.0 474.8 183.3 475.5 184.6 476.2 186.0 476.9 187.3 477.6 188.6 478.3 190.0 479.0 191.3 479.6 192.6 480.3 194.0 481.0 195.3 481.6 196.7 482.3 198.0 483.0 199.4 483.6 200.7 484.3 202.1 484.9 203.4 485.5 204.8 486.2 206.2 486.8 207.5 487.4 208.9 488.0 210.3 488.6 211.7 489.2 213.0 489.8 214.4 490.4 215.8 491.0 217.2 491.6 218.6 492.2 220.0 492.8 221.4 493.3 222.8 493.9 224.2 494.5 225.6 495.0 227.0 495.6 228.4 496.1 229.8 496.6 231.2 497.2 232.6 497.7 234.0 498.2 235.4 498.8 236.8 499.3 238.3 499.8 239.7 500.3 241.1 500.8 242.5 501.3 244.0 501.8 245.4 502.3" stroke="#ff0000" stroke-width="1.35" fill="none" stroke-linejoin="round" stroke-dasharray="6.1 6.3"/>
<path d="M61.8 346.5 62.0 348.1 62.3 349.6 62.5 351.1 62.9 352.6 63.2 354.0 63.6 355.5 64.1 356.9 64.6 358.3 65.1 359.7 65.6 361.1 66.2 362.4 66.8 363.8 67.4 365.1 68.1 366.4 68.8 367.7 69.5 369.0 70.2 370.2 71.0 371.5 71.8 372.7 72.6 373.9 73.5 375.1 74.3 376.3 75.2 377.5 76.2 378.6 77.1 379.8 78.1 380.9 79.0 382.0 80.0 383.1 81.0 384.2 82.1 385.3 83.1 386.3 84.2 387.4 85.3 388.4 86.3 389.5 87.4 390.5 88.6 391.5 89.7 392.5 90.8 393.5 92.0 394.4 93.1 395.4 94.3 396.3 95.5 397.3 96.7 398.2 97.8 399.1 99.0 400.1 100.3 401.0 101.5 401.9 102.7 402.7 103.9 403.6 105.2 404.5 106.4 405.4 107.7 406.2 108.9 407.1 110.2 407.9 111.5 408.8 112.7 409.6 114.0 410.4 115.3 411.2 116.6 412.0 117.9 412.8 119.2 413.6 120.5 414.4 121.8 415.2 123.1 416.0 124.4 416.8 125.7 417.6 127.0 418.4 128.3 419.1 129.6 419.9 131.0 420.7 132.3 421.4 133.6 422.2 134.9 423.0 136.2 423.7 137.5 424.5 138.9 425.2 140.2 426.0 141.5 426.7 142.8 427.5 144.1 428.2 145.4 429.0 146.8 429.7 148.1 430.4 149.4 431.2 150.7 431.9 152.0 432.7 153.3 433.4 154.6 434.1 156.0 434.8 157.3 435.6 158.6 436.3 159.9 437.0 161.2 437.7 162.5 438.4 163.9 439.1 165.2 439.9 166.5 440.6 167.8 441.3 169.1 442.0 170.5 442.7 171.8 443.3 173.1 444.0 174.4 444.7 175.8 445.4 177.1 446.1 178.4 446.8 179.8 447.4 181.1 448.1 182.4 448.8 183.8 449.4 185.1 450.1 186.5 450.7 187.8 451.4 189.1 452.0 190.5 452.6 191.8 453.3 193.2 453.9 194.6 454.5 195.9 455.1 197.3 455.8 198.6 456.4 200.0 457.0 201.4 457.6 202.7 458.2 204.1 458.8 205.5 459.3 206.9 459.9 208.2 460.5 209.6 461.1 211.0 461.6 212.4 462.2 213.8 462.7 215.2 463.3 216.6 463.8 218.0 464.4 219.4 464.9 220.8 465.4 222.2 465.9 223.7 466.5 225.1 467.0 226.5 467.5 227.9 467.9 229.4 468.4 230.8 468.9 232.2 469.4 233.7 469.9 235.1 470.3 236.6 470.8 238.1 471.2 239.5 471.7 241.0 472.1 242.5 472.5 244.0 472.9 245.4 473.3" stroke="#008000" stroke-width="2.2" fill="none" stroke-linejoin="round" stroke-dasharray="3.7 4.1"/>
<path d="M61.8 346.5 62.0 348.1 62.3 349.7 62.6 351.3 62.9 352.8 63.3 354.4 63.7 355.9 64.1 357.4 64.5 358.9 65.0 360.3 65.6 361.8 66.1 363.2 66.7 364.6 67.3 366.0 67.9 367.3 68.6 368.7 69.3 370.0 70.0 371.3 70.8 372.5 71.6 373.8 72.4 375.0 73.2 376.2 74.0 377.4 74.9 378.5 75.8 379.7 76.7 380.8 77.7 381.9 78.6 383.0 79.6 384.0 80.6 385.1 81.7 386.1 82.7 387.1 83.8 388.0 84.9 389.0 86.0 389.9 87.1 390.8 88.2 391.7 89.4 392.5 90.6 393.4 91.7 394.2 93.0 395.0 94.2 395.8 95.4 396.6 96.7 397.3 97.9 398.1 99.2 398.8 100.5 399.5 101.8 400.2 103.1 400.9 104.4 401.5 105.7 402.2 107.1 402.8 108.4 403.5 109.8 404.1 111.2 404.7 112.5 405.3 113.9 405.9 115.3 406.5 116.7 407.1 118.1 407.7 119.5 408.3 120.9 408.8 122.3 409.4 123.8 409.9 125.2 410.5 126.6 411.1 128.0 411.6 129.5 412.1 130.9 412.7 132.3 413.2 133.8 413.8 135.2 414.3 136.6 414.9 138.0 415.4 139.5 416.0 140.9 416.5 142.3 417.1 143.7 417.6 145.2 418.2 146.6 418.8 148.0 419.3 149.4 419.9 150.9 420.4 152.3 421.0 153.7 421.5 155.1 422.1 156.5 422.7 158.0 423.2 159.4 423.8 160.8 424.3 162.2 424.9 163.6 425.4 165.0 426.0 166.5 426.5 167.9 427.1 169.3 427.6 170.7 428.1 172.1 428.7 173.5 429.2 175.0 429.8 176.4 430.3 177.8 430.8 179.2 431.3 180.6 431.9 182.0 432.4 183.5 432.9 184.9 433.4 186.3 433.9 187.7 434.4 189.1 434.9 190.6 435.4 192.0 435.9 193.4 436.4 194.8 436.9 196.2 437.4 197.7 437.8 199.1 438.3 200.5 438.8 201.9 439.2 203.4 439.7 204.8 440.1 206.2 440.6 207.7 441.0 209.1 441.4 210.5 441.9 211.9 442.3 213.4 442.7 214.8 443.1 216.3 443.5 217.7 443.9 219.1 444.3 220.6 444.6 222.0 445.0 223.5 445.3 224.9 445.7 226.3 446.0 227.8 446.4 229.2 446.7 230.7 447.0 232.2 447.3 233.6 447.6 235.1 447.9 236.5 448.2 238.0 448.5 239.4 448.7 240.9 449.0 242.4 449.2 243.8 449.5 245.3 449.7" stroke="#0000ff" stroke-width="2.3" fill="none" stroke-linejoin="round" stroke-dasharray="12.2 7.6"/>
<path d="M369.6 353.3 369.9 354.8 370.3 356.2 370.8 357.6 371.2 359.0 371.7 360.4 372.3 361.7 372.9 363.1 373.5 364.4 374.1 365.7 374.7 367.1 375.4 368.4 376.1 369.7 376.9 370.9 377.6 372.2 378.4 373.5 379.2 374.7 380.0 376.0 380.8 377.2 381.7 378.4 382.6 379.7 383.4 380.9 384.3 382.1 385.3 383.3 386.2 384.4 387.1 385.6 388.0 386.8 389.0 388.0 389.9 389.1 390.9 390.3 391.9 391.4 392.8 392.6 393.8 393.7 394.8 394.9 395.8 396.0 396.8 397.1 397.8 398.2 398.8 399.3 399.8 400.4 400.9 401.5 401.9 402.6 402.9 403.7 404.0 404.8 405.0 405.9 406.1 407.0 407.1 408.0 408.2 409.1 409.3 410.1 410.3 411.2 411.4 412.2 412.5 413.3 413.6 414.3 414.7 415.3 415.8 416.4 416.9 417.4 418.0 418.4 419.1 419.4 420.2 420.4 421.4 421.4 422.5 422.4 423.6 423.4 424.8 424.3 425.9 425.3 427.1 426.3 428.2 427.3 429.4 428.2 430.5 429.2 431.7 430.1 432.9 431.1 434.1 432.0 435.2 432.9 436.4 433.9 437.6 434.8 438.8 435.7 440.0 436.6 441.2 437.5 442.4 438.4 443.6 439.3 444.8 440.2 446.0 441.1 447.2 442.0 448.4 442.9 449.6 443.7 450.9 444.6 452.1 445.5 453.3 446.3 454.5 447.2 455.8 448.0 457.0 448.9 458.3 449.7 459.5 450.6 460.8 451.4 462.0 452.2 463.3 453.0 464.5 453.8 465.8 454.7 467.0 455.5 468.3 456.3 469.6 457.1 470.8 457.8 472.1 458.6 473.4 459.4 474.7 460.2 476.0 461.0 477.2 461.7 478.5 462.5 479.8 463.3 481.1 464.0 482.4 464.8 483.7 465.5 485.0 466.2 486.3 467.0 487.6 467.7 488.9 468.4 490.2 469.1 491.6 469.9 492.9 470.6 494.2 471.3 495.5 472.0 496.8 472.7 498.2 473.4 499.5 474.1 500.8 474.7 502.2 475.4 503.5 476.1 504.8 476.8 506.2 477.4 507.5 478.1 508.9 478.8 510.2 479.4 511.6 480.1 512.9 480.7 514.3 481.3 515.6 482.0 517.0 482.6 518.4 483.2 519.7 483.8 521.1 484.5 522.5 485.1 523.8 485.7 525.2 486.3 526.6 486.9 528.0 487.5 529.4 488.1 530.7 488.7 532.1 489.2 533.5 489.8 534.9 490.4 536.3 490.9 537.7 491.5 539.1 492.1 540.5 492.6 541.9 493.2 543.3 493.7 544.7 494.3 546.1 494.8 547.5 495.3 548.9 495.9 550.3 496.4 551.7 496.9 553.1 497.4" stroke="#000" stroke-width="1.35" fill="none" stroke-linejoin="round"/>
<path d="M369.6 353.3 369.9 354.8 370.3 356.3 370.7 357.7 371.2 359.1 371.7 360.5 372.2 361.9 372.8 363.2 373.4 364.6 374.0 365.9 374.7 367.2 375.4 368.5 376.1 369.8 376.9 371.0 377.6 372.3 378.4 373.5 379.3 374.7 380.1 375.9 381.0 377.1 381.9 378.3 382.8 379.4 383.8 380.6 384.7 381.7 385.7 382.9 386.7 384.0 387.7 385.1 388.7 386.2 389.8 387.3 390.8 388.3 391.9 389.4 392.9 390.5 394.0 391.5 395.1 392.6 396.2 393.6 397.3 394.6 398.4 395.7 399.5 396.7 400.6 397.7 401.7 398.7 402.9 399.7 404.0 400.7 405.1 401.7 406.3 402.7 407.4 403.7 408.5 404.7 409.7 405.7 410.8 406.6 412.0 407.6 413.2 408.6 414.3 409.5 415.5 410.5 416.7 411.4 417.8 412.4 419.0 413.3 420.2 414.3 421.4 415.2 422.6 416.1 423.8 417.1 424.9 418.0 426.1 418.9 427.3 419.8 428.5 420.7 429.8 421.6 431.0 422.6 432.2 423.5 433.4 424.4 434.6 425.3 435.8 426.1 437.0 427.0 438.2 427.9 439.5 428.8 440.7 429.7 441.9 430.6 443.1 431.5 444.4 432.3 445.6 433.2 446.8 434.1 448.0 434.9 449.3 435.8 450.5 436.7 451.7 437.5 453.0 438.4 454.2 439.3 455.5 440.1 456.7 441.0 457.9 441.8 459.2 442.7 460.4 443.5 461.7 444.4 462.9 445.2 464.2 446.0 465.4 446.9 466.7 447.7 467.9 448.5 469.2 449.4 470.4 450.2 471.7 451.0 472.9 451.8 474.2 452.7 475.4 453.5 476.7 454.3 478.0 455.1 479.2 455.9 480.5 456.7 481.8 457.5 483.0 458.3 484.3 459.1 485.6 459.9 486.9 460.7 488.1 461.5 489.4 462.2 490.7 463.0 492.0 463.8 493.3 464.6 494.5 465.4 495.8 466.1 497.1 466.9 498.4 467.7 499.7 468.4 501.0 469.2 502.3 469.9 503.6 470.7 504.9 471.4 506.2 472.2 507.5 472.9 508.8 473.6 510.1 474.4 511.4 475.1 512.7 475.8 514.1 476.6 515.4 477.3 516.7 478.0 518.0 478.7 519.3 479.4 520.7 480.1 522.0 480.8 523.3 481.5 524.6 482.2 526.0 482.9 527.3 483.6 528.6 484.3 530.0 485.0 531.3 485.7 532.7 486.3 534.0 487.0 535.4 487.7 536.7 488.3 538.1 489.0 539.4 489.7 540.8 490.3 542.1 491.0 543.5 491.6 544.9 492.3 546.2 492.9 547.6 493.5 549.0 494.2 550.4 494.8 551.7 495.4 553.1 496.0" stroke="#ff0000" stroke-width="1.35" fill="none" stroke-linejoin="round" stroke-dasharray="6.1 6.3"/>
<path d="M369.6 353.3 369.9 354.9 370.2 356.5 370.6 358.1 371.0 359.6 371.5 361.1 372.0 362.5 372.5 363.9 373.1 365.3 373.8 366.6 374.4 367.9 375.1 369.2 375.9 370.4 376.7 371.6 377.5 372.8 378.4 373.9 379.2 375.1 380.2 376.2 381.1 377.2 382.1 378.3 383.1 379.3 384.1 380.3 385.2 381.3 386.2 382.3 387.3 383.2 388.4 384.1 389.6 385.0 390.7 385.9 391.9 386.8 393.1 387.7 394.3 388.5 395.5 389.4 396.7 390.2 398.0 391.0 399.2 391.8 400.5 392.6 401.8 393.4 403.0 394.2 404.3 395.0 405.6 395.8 406.9 396.6 408.2 397.3 409.5 398.1 410.8 398.9 412.1 399.6 413.4 400.4 414.7 401.2 416.0 401.9 417.3 402.7 418.6 403.4 420.0 404.1 421.3 404.9 422.6 405.6 423.9 406.4 425.3 407.1 426.6 407.8 427.9 408.6 429.2 409.3 430.6 410.0 431.9 410.7 433.3 411.4 434.6 412.2 435.9 412.9 437.3 413.6 438.6 414.3 439.9 415.0 441.3 415.7 442.6 416.5 444.0 417.2 445.3 417.9 446.7 418.6 448.0 419.3 449.3 420.0 450.7 420.7 452.0 421.4 453.4 422.1 454.7 422.8 456.0 423.6 457.4 424.3 458.7 425.0 460.0 425.7 461.4 426.4 462.7 427.1 464.0 427.8 465.4 428.5 466.7 429.2 468.0 429.9 469.4 430.6 470.7 431.3 472.0 432.0 473.3 432.7 474.7 433.4 476.0 434.1 477.3 434.8 478.7 435.5 480.0 436.2 481.3 436.9 482.7 437.5 484.0 438.2 485.3 438.9 486.7 439.6 488.0 440.3 489.3 440.9 490.7 441.6 492.0 442.3 493.4 442.9 494.7 443.6 496.0 444.3 497.4 444.9 498.7 445.6 500.1 446.2 501.4 446.9 502.8 447.5 504.1 448.1 505.5 448.8 506.8 449.4 508.2 450.0 509.5 450.6 510.9 451.2 512.3 451.9 513.6 452.5 515.0 453.1 516.4 453.7 517.7 454.2 519.1 454.8 520.5 455.4 521.9 456.0 523.3 456.6 524.6 457.1 526.0 457.7 527.4 458.2 528.8 458.8 530.2 459.3 531.6 459.9 533.0 460.4 534.4 460.9 535.9 461.4 537.3 461.9 538.7 462.4 540.1 462.9 541.5 463.4 543.0 463.9 544.4 464.4 545.8 464.9 547.3 465.3 548.7 465.8 550.2 466.2 551.6 466.7 553.1 467.1" stroke="#008000" stroke-width="2.2" fill="none" stroke-linejoin="round" stroke-dasharray="3.7 4.1"/>
<path d="M369.6 353.3 369.8 355.0 370.1 356.6 370.5 358.2 370.8 359.7 371.3 361.2 371.8 362.7 372.3 364.1 372.9 365.5 373.5 366.9 374.1 368.2 374.8 369.5 375.6 370.8 376.4 372.0 377.2 373.2 378.0 374.4 378.9 375.5 379.8 376.6 380.8 377.7 381.7 378.8 382.7 379.8 383.8 380.8 384.8 381.7 385.9 382.7 387.0 383.6 388.1 384.5 389.3 385.4 390.4 386.2 391.6 387.0 392.8 387.9 394.1 388.6 395.3 389.4 396.5 390.1 397.8 390.9 399.1 391.6 400.4 392.3 401.7 392.9 403.0 393.6 404.3 394.3 405.7 394.9 407.0 395.5 408.4 396.1 409.8 396.7 411.2 397.3 412.6 397.8 414.0 398.4 415.4 398.9 416.8 399.5 418.2 400.0 419.7 400.5 421.1 401.0 422.5 401.5 424.0 402.0 425.4 402.5 426.9 403.0 428.4 403.5 429.8 404.0 431.3 404.4 432.7 404.9 434.2 405.4 435.7 405.9 437.1 406.4 438.6 406.8 440.1 407.3 441.5 407.8 443.0 408.3 444.4 408.8 445.9 409.3 447.3 409.8 448.8 410.3 450.2 410.8 451.7 411.3 453.1 411.8 454.5 412.3 455.9 412.8 457.4 413.3 458.8 413.9 460.2 414.4 461.6 414.9 463.0 415.5 464.4 416.0 465.8 416.5 467.2 417.1 468.6 417.6 470.1 418.1 471.5 418.7 472.8 419.2 474.2 419.8 475.6 420.3 477.0 420.8 478.4 421.4 479.8 421.9 481.2 422.4 482.6 423.0 484.0 423.5 485.4 424.0 486.8 424.6 488.2 425.1 489.6 425.6 491.0 426.1 492.3 426.7 493.7 427.2 495.1 427.7 496.5 428.2 497.9 428.7 499.3 429.2 500.7 429.7 502.1 430.2 503.5 430.7 504.9 431.1 506.3 431.6 507.7 432.1 509.1 432.5 510.6 433.0 512.0 433.4 513.4 433.9 514.8 434.3 516.2 434.7 517.7 435.2 519.1 435.6 520.5 436.0 522.0 436.4 523.4 436.8 524.8 437.1 526.3 437.5 527.7 437.9 529.2 438.2 530.6 438.6 532.1 438.9 533.6 439.2 535.0 439.5 536.5 439.8 538.0 440.1 539.5 440.4 541.0 440.7 542.5 440.9 544.0 441.1 545.5 441.4 547.0 441.6 548.5 441.8 550.1 442.0 551.6 442.2 553.1 442.3" stroke="#0000ff" stroke-width="2.3" fill="none" stroke-linejoin="round" stroke-dasharray="12.2 7.6"/>
<path d="M64.6 667.6 64.7 669.1 64.7 670.5 64.8 672.0 64.8 673.5 64.9 675.0 64.9 676.5 64.9 678.0 65.0 679.5 65.0 681.0 65.0 682.6 65.0 684.1 65.1 685.6 65.1 687.1 65.1 688.7 65.1 690.2 65.2 691.7 65.2 693.2 65.2 694.8 65.3 696.3 65.3 697.8 65.4 699.4 65.4 700.9 65.5 702.4 65.6 704.0 65.7 705.5 65.8 707.0 65.9 708.5 66.1 710.0 66.2 711.6 66.4 713.1 66.5 714.6 66.7 716.1 66.9 717.6 67.2 719.0 67.4 720.5 67.7 722.0 68.0 723.5 68.3 724.9 68.6 726.4 68.9 727.9 69.3 729.3 69.7 730.7 70.1 732.2 70.5 733.6 71.0 735.0 71.5 736.4 72.0 737.8 72.5 739.1 73.0 740.5 73.6 741.9 74.2 743.2 74.8 744.5 75.5 745.8 76.2 747.2 76.9 748.4 77.6 749.7 78.3 751.0 79.1 752.3 79.9 753.5 80.7 754.7 81.5 756.0 82.4 757.2 83.3 758.4 84.1 759.5 85.1 760.7 86.0 761.9 86.9 763.0 87.9 764.1 88.9 765.3 89.9 766.4 90.9 767.5 91.9 768.5 93.0 769.6 94.1 770.7 95.1 771.7 96.2 772.7 97.3 773.7 98.5 774.7 99.6 775.7 100.8 776.7 101.9 777.6 103.1 778.5 104.3 779.5 105.5 780.4 106.7 781.3 107.9 782.1 109.1 783.0 110.4 783.9 111.6 784.7 112.9 785.5 114.1 786.3 115.4 787.1 116.7 787.9 118.0 788.6 119.3 789.4 120.6 790.1 121.9 790.8 123.2 791.5 124.5 792.2 125.9 792.9 127.2 793.5 128.6 794.2 129.9 794.8 131.3 795.4 132.6 796.0 134.0 796.6 135.4 797.2 136.8 797.8 138.2 798.3 139.5 798.9 140.9 799.4 142.3 799.9 143.8 800.4 145.2 800.9 146.6 801.4 148.0 801.9 149.4 802.4 150.9 802.8 152.3 803.3 153.7 803.7 155.2 804.2 156.6 804.6 158.1 805.0 159.5 805.4 161.0 805.8 162.5 806.2 163.9 806.6 165.4 807.0 166.9 807.3 168.3 807.7 169.8 808.0 171.3 808.4 172.8 808.7 174.2 809.0 175.7 809.4 177.2 809.7 178.7 810.0 180.2 810.3 181.7 810.6 183.2 810.9 184.7 811.2 186.2 811.5 187.7 811.8 189.2 812.1 190.7 812.3 192.2 812.6 193.7 812.9 195.2 813.2 196.7 813.4 198.2 813.7 199.7 813.9 201.2 814.2 202.7 814.4 204.1 814.7 205.6 814.9 207.1 815.2 208.6 815.4 210.1 815.7 211.6 815.9 213.1 816.1 214.6 816.4 216.1 816.6 217.6 816.9 219.1 817.1 220.5 817.3 222.0 817.6 223.5 817.8 225.0 818.1 226.5 818.3 227.9 818.6 229.4 818.8 230.9 819.0 232.3 819.3 233.8 819.5 235.2 819.8 236.7 820.1 238.1 820.3 239.6 820.6 241.0 820.8 242.4 821.1 243.9 821.4 245.3 821.7 246.7 821.9 248.1 822.2" stroke="#000" stroke-width="1.35" fill="none" stroke-linejoin="round"/>
<path d="M64.6 667.6 64.7 669.1 64.8 670.6 64.9 672.1 65.0 673.6 65.0 675.2 65.1 676.7 65.1 678.2 65.2 679.7 65.2 681.3 65.2 682.8 65.2 684.3 65.3 685.9 65.3 687.4 65.3 688.9 65.3 690.5 65.4 692.0 65.4 693.5 65.4 695.0 65.4 696.6 65.5 698.1 65.5 699.6 65.6 701.1 65.6 702.7 65.7 704.2 65.8 705.7 65.9 707.2 66.0 708.7 66.1 710.2 66.2 711.7 66.4 713.2 66.5 714.7 66.7 716.2 66.9 717.7 67.1 719.1 67.4 720.6 67.6 722.1 67.9 723.5 68.2 725.0 68.5 726.4 68.8 727.8 69.2 729.3 69.6 730.7 70.0 732.1 70.4 733.5 70.9 734.9 71.3 736.3 71.9 737.6 72.4 739.0 72.9 740.3 73.5 741.7 74.1 743.0 74.7 744.3 75.4 745.7 76.1 747.0 76.8 748.2 77.5 749.5 78.2 750.8 79.0 752.1 79.8 753.3 80.6 754.6 81.4 755.8 82.2 757.0 83.1 758.2 84.0 759.4 84.9 760.6 85.8 761.8 86.7 762.9 87.7 764.1 88.6 765.2 89.6 766.3 90.6 767.4 91.6 768.5 92.6 769.6 93.7 770.7 94.7 771.8 95.8 772.8 96.9 773.9 98.0 774.9 99.1 775.9 100.2 776.9 101.4 777.9 102.5 778.9 103.7 779.8 104.8 780.8 106.0 781.7 107.2 782.6 108.4 783.5 109.6 784.4 110.8 785.3 112.0 786.2 113.2 787.0 114.5 787.9 115.7 788.7 117.0 789.5 118.2 790.3 119.5 791.1 120.8 791.9 122.1 792.6 123.4 793.4 124.7 794.1 126.0 794.8 127.3 795.5 128.6 796.2 129.9 796.9 131.2 797.6 132.6 798.3 133.9 798.9 135.3 799.6 136.6 800.2 138.0 800.9 139.4 801.5 140.7 802.1 142.1 802.7 143.5 803.3 144.9 803.8 146.3 804.4 147.7 805.0 149.1 805.5 150.5 806.1 151.9 806.6 153.3 807.1 154.7 807.6 156.1 808.1 157.6 808.6 159.0 809.1 160.4 809.6 161.9 810.1 163.3 810.6 164.8 811.0 166.2 811.5 167.6 811.9 169.1 812.4 170.6 812.8 172.0 813.2 173.5 813.6 174.9 814.1 176.4 814.5 177.9 814.9 179.3 815.3 180.8 815.7 182.3 816.0 183.8 816.4 185.2 816.8 186.7 817.2 188.2 817.5 189.7 817.9 191.1 818.3 192.6 818.6 194.1 819.0 195.6 819.3 197.1 819.7 198.6 820.0 200.0 820.3 201.5 820.7 203.0 821.0 204.5 821.3 206.0 821.6 207.4 822.0 208.9 822.3 210.4 822.6 211.9 822.9 213.3 823.2 214.8 823.5 216.3 823.8 217.8 824.2 219.2 824.5 220.7 824.8 222.2 825.1 223.6 825.4 225.1 825.7 226.6 826.0 228.0 826.3 229.5 826.6 230.9 826.9 232.4 827.2 233.8 827.5 235.3 827.8 236.7 828.1 238.1 828.4 239.6 828.7 241.0 829.0 242.4 829.3 243.8 829.6 245.3 830.0 246.7 830.3 248.1 830.6" stroke="#ff0000" stroke-width="1.35" fill="none" stroke-linejoin="round" stroke-dasharray="6.1 6.3"/>
<path d="M64.6 667.6 64.8 669.1 64.9 670.6 65.0 672.0 65.1 673.5 65.3 675.0 65.4 676.5 65.5 678.0 65.5 679.5 65.6 680.9 65.7 682.4 65.7 683.9 65.8 685.4 65.9 686.9 65.9 688.4 66.0 689.9 66.0 691.4 66.1 692.9 66.1 694.4 66.2 695.9 66.2 697.4 66.3 698.9 66.3 700.4 66.4 701.9 66.4 703.4 66.5 704.9 66.6 706.4 66.6 707.9 66.7 709.4 66.8 711.0 66.9 712.5 67.0 714.0 67.2 715.5 67.3 717.1 67.4 718.6 67.6 720.1 67.8 721.7 68.0 723.2 68.2 724.8 68.4 726.3 68.6 727.8 68.9 729.4 69.2 730.9 69.4 732.4 69.8 733.9 70.1 735.4 70.5 736.9 70.9 738.4 71.3 739.8 71.7 741.3 72.2 742.7 72.7 744.1 73.2 745.5 73.8 746.9 74.4 748.3 75.0 749.6 75.7 750.9 76.3 752.2 77.1 753.4 77.8 754.7 78.6 755.9 79.4 757.1 80.2 758.3 81.1 759.4 81.9 760.6 82.8 761.7 83.8 762.8 84.7 763.9 85.7 765.0 86.7 766.0 87.7 767.0 88.8 768.1 89.8 769.1 90.9 770.1 92.0 771.0 93.1 772.0 94.2 772.9 95.4 773.9 96.5 774.8 97.7 775.7 98.9 776.6 100.1 777.5 101.3 778.3 102.6 779.2 103.8 780.0 105.1 780.9 106.3 781.7 107.6 782.5 108.9 783.3 110.2 784.1 111.5 784.9 112.8 785.7 114.1 786.4 115.4 787.2 116.7 787.9 118.1 788.7 119.4 789.4 120.7 790.2 122.0 790.9 123.4 791.6 124.7 792.3 126.1 793.1 127.4 793.8 128.7 794.5 130.1 795.2 131.4 795.8 132.8 796.5 134.1 797.2 135.5 797.9 136.8 798.6 138.2 799.2 139.6 799.9 140.9 800.5 142.3 801.2 143.6 801.8 145.0 802.4 146.4 803.1 147.7 803.7 149.1 804.3 150.5 804.9 151.9 805.5 153.2 806.1 154.6 806.7 156.0 807.3 157.4 807.9 158.8 808.5 160.1 809.0 161.5 809.6 162.9 810.2 164.3 810.7 165.7 811.3 167.1 811.8 168.5 812.3 169.9 812.9 171.3 813.4 172.7 813.9 174.1 814.4 175.5 814.9 176.9 815.4 178.3 815.9 179.8 816.4 181.2 816.9 182.6 817.4 184.0 817.9 185.4 818.3 186.8 818.8 188.3 819.3 189.7 819.7 191.1 820.2 192.6 820.6 194.0 821.0 195.4 821.5 196.9 821.9 198.3 822.3 199.7 822.7 201.2 823.1 202.6 823.5 204.1 823.9 205.5 824.3 206.9 824.7 208.4 825.1 209.8 825.4 211.3 825.8 212.8 826.2 214.2 826.5 215.7 826.9 217.1 827.2 218.6 827.6 220.1 827.9 221.5 828.2 223.0 828.5 224.5 828.9 225.9 829.2 227.4 829.5 228.9 829.8 230.4 830.1 231.8 830.3 233.3 830.6 234.8 830.9 236.3 831.2 237.8 831.4 239.3 831.7 240.7 831.9 242.2 832.2 243.7 832.4 245.2 832.7 246.7 832.9 248.2 833.1" stroke="#008000" stroke-width="2.2" fill="none" stroke-linejoin="round" stroke-dasharray="3.7 4.1"/>
<path d="M64.6 667.6 64.7 669.0 64.8 670.4 64.9 671.8 65.0 673.3 65.0 674.7 65.1 676.2 65.2 677.6 65.3 679.1 65.3 680.6 65.4 682.1 65.5 683.6 65.5 685.0 65.6 686.6 65.7 688.1 65.7 689.6 65.8 691.1 65.9 692.6 65.9 694.1 66.0 695.7 66.1 697.2 66.2 698.7 66.2 700.3 66.3 701.8 66.4 703.3 66.5 704.9 66.6 706.4 66.8 708.0 66.9 709.5 67.0 711.1 67.1 712.6 67.3 714.1 67.4 715.7 67.6 717.2 67.8 718.7 67.9 720.2 68.1 721.8 68.3 723.3 68.5 724.8 68.8 726.3 69.0 727.8 69.2 729.3 69.5 730.8 69.8 732.3 70.1 733.8 70.4 735.2 70.7 736.7 71.0 738.1 71.4 739.6 71.7 741.0 72.1 742.4 72.5 743.9 73.0 745.3 73.4 746.6 73.9 748.0 74.4 749.4 74.9 750.8 75.5 752.1 76.0 753.4 76.6 754.7 77.3 756.0 78.0 757.3 78.7 758.6 79.4 759.9 80.2 761.1 81.0 762.3 81.8 763.5 82.7 764.7 83.7 765.9 84.6 767.1 85.6 768.2 86.6 769.3 87.7 770.4 88.8 771.5 89.9 772.6 91.0 773.6 92.1 774.6 93.3 775.6 94.5 776.6 95.7 777.6 96.9 778.5 98.2 779.4 99.4 780.3 100.6 781.2 101.9 782.0 103.2 782.8 104.4 783.6 105.7 784.4 107.0 785.1 108.3 785.9 109.5 786.6 110.8 787.3 112.1 788.0 113.5 788.6 114.8 789.3 116.1 789.9 117.4 790.5 118.7 791.1 120.1 791.7 121.4 792.3 122.7 792.8 124.1 793.4 125.4 793.9 126.8 794.5 128.2 795.0 129.5 795.5 130.9 796.0 132.3 796.5 133.6 797.1 135.0 797.6 136.4 798.1 137.8 798.6 139.2 799.0 140.6 799.5 142.0 800.0 143.4 800.5 144.8 801.0 146.2 801.4 147.6 801.9 149.0 802.4 150.5 802.9 151.9 803.3 153.3 803.8 154.7 804.2 156.2 804.7 157.6 805.2 159.1 805.6 160.5 806.1 161.9 806.5 163.4 807.0 164.8 807.4 166.3 807.9 167.7 808.4 169.2 808.8 170.6 809.3 172.1 809.7 173.6 810.2 175.0 810.6 176.5 811.1 177.9 811.5 179.4 812.0 180.9 812.4 182.3 812.9 183.8 813.4 185.3 813.8 186.7 814.3 188.2 814.7 189.7 815.1 191.2 815.6 192.6 816.0 194.1 816.5 195.6 816.9 197.0 817.3 198.5 817.7 200.0 818.2 201.5 818.6 202.9 819.0 204.4 819.4 205.9 819.8 207.4 820.2 208.8 820.6 210.3 821.0 211.8 821.3 213.2 821.7 214.7 822.1 216.2 822.4 217.6 822.8 219.1 823.1 220.6 823.5 222.0 823.8 223.5 824.1 225.0 824.4 226.4 824.7 227.9 825.0 229.3 825.3 230.8 825.5 232.3 825.8 233.7 826.0 235.2 826.3 236.6 826.5 238.1 826.7 239.5 826.9 240.9 827.1 242.4 827.3 243.8 827.5 245.2 827.6 246.7 827.8 248.1 827.9" stroke="#0000ff" stroke-width="2.3" fill="none" stroke-linejoin="round" stroke-dasharray="12.2 7.6"/>
<path d="M366.6 665.0 366.6 666.5 366.7 668.0 366.7 669.6 366.7 671.1 366.7 672.6 366.7 674.2 366.8 675.7 366.8 677.2 366.8 678.8 366.8 680.3 366.9 681.8 366.9 683.4 366.9 684.9 366.9 686.4 367.0 687.9 367.0 689.5 367.1 691.0 367.1 692.5 367.2 694.0 367.3 695.6 367.3 697.1 367.4 698.6 367.5 700.1 367.6 701.6 367.7 703.1 367.9 704.6 368.0 706.1 368.1 707.6 368.3 709.1 368.5 710.6 368.7 712.1 368.9 713.6 369.1 715.1 369.3 716.5 369.6 718.0 369.8 719.5 370.1 720.9 370.4 722.4 370.7 723.8 371.1 725.2 371.4 726.7 371.8 728.1 372.2 729.5 372.6 731.0 373.0 732.4 373.5 733.8 373.9 735.2 374.4 736.5 374.9 737.9 375.4 739.3 376.0 740.7 376.5 742.0 377.1 743.4 377.7 744.7 378.4 746.1 379.0 747.4 379.7 748.7 380.4 750.0 381.1 751.3 381.8 752.6 382.6 753.9 383.4 755.1 384.2 756.4 385.0 757.6 385.8 758.9 386.6 760.1 387.5 761.3 388.4 762.5 389.3 763.7 390.2 764.9 391.1 766.1 392.1 767.3 393.1 768.4 394.0 769.6 395.0 770.7 396.0 771.8 397.1 772.9 398.1 774.0 399.2 775.1 400.2 776.1 401.3 777.2 402.4 778.2 403.5 779.2 404.6 780.3 405.8 781.3 406.9 782.2 408.1 783.2 409.2 784.2 410.4 785.1 411.6 786.0 412.8 786.9 414.0 787.8 415.2 788.7 416.4 789.6 417.7 790.4 418.9 791.3 420.2 792.1 421.4 792.9 422.7 793.7 424.0 794.4 425.3 795.2 426.6 795.9 427.9 796.6 429.2 797.4 430.5 798.0 431.8 798.7 433.1 799.4 434.5 800.1 435.8 800.7 437.2 801.3 438.5 802.0 439.9 802.6 441.3 803.2 442.6 803.7 444.0 804.3 445.4 804.9 446.8 805.4 448.2 806.0 449.6 806.5 451.0 807.0 452.4 807.6 453.8 808.1 455.2 808.6 456.7 809.0 458.1 809.5 459.5 810.0 461.0 810.5 462.4 810.9 463.8 811.4 465.3 811.8 466.7 812.3 468.2 812.7 469.6 813.1 471.1 813.5 472.6 814.0 474.0 814.4 475.5 814.8 477.0 815.2 478.4 815.6 479.9 816.0 481.4 816.4 482.9 816.8 484.3 817.1 485.8 817.5 487.3 817.9 488.8 818.3 490.3 818.7 491.8 819.0 493.2 819.4 494.7 819.8 496.2 820.2 497.7 820.5 499.2 820.9 500.7 821.3 502.2 821.6 503.7 822.0 505.1 822.4 506.6 822.7 508.1 823.1 509.6 823.5 511.1 823.8 512.6 824.2 514.0 824.5 515.5 824.9 517.0 825.2 518.5 825.6 519.9 825.9 521.4 826.3 522.9 826.6 524.3 826.9 525.8 827.3 527.3 827.6 528.7 827.9 530.2 828.2 531.6 828.6 533.1 828.9 534.5 829.2 536.0 829.5 537.4 829.8 538.9 830.1 540.3 830.4 541.7 830.7 543.1 831.0 544.6 831.3 546.0 831.6 547.4 831.9 548.8 832.1 550.2 832.4" stroke="#000" stroke-width="1.35" fill="none" stroke-linejoin="round"/>
<path d="M366.6 665.0 366.6 666.4 366.7 667.9 366.7 669.3 366.7 670.7 366.7 672.2 366.7 673.7 366.8 675.1 366.8 676.6 366.8 678.1 366.8 679.6 366.8 681.1 366.9 682.6 366.9 684.1 366.9 685.7 367.0 687.2 367.0 688.7 367.1 690.2 367.1 691.8 367.2 693.3 367.2 694.9 367.3 696.4 367.4 697.9 367.5 699.5 367.6 701.0 367.7 702.6 367.8 704.1 368.0 705.7 368.1 707.2 368.3 708.7 368.5 710.3 368.7 711.8 368.9 713.4 369.1 714.9 369.3 716.4 369.6 717.9 369.8 719.4 370.1 721.0 370.4 722.5 370.7 724.0 371.1 725.4 371.4 726.9 371.8 728.4 372.2 729.9 372.6 731.3 373.0 732.8 373.5 734.2 374.0 735.7 374.4 737.1 375.0 738.5 375.5 739.9 376.0 741.3 376.6 742.7 377.2 744.0 377.8 745.4 378.5 746.7 379.1 748.0 379.8 749.3 380.5 750.6 381.2 751.9 382.0 753.2 382.7 754.5 383.5 755.7 384.3 756.9 385.2 758.2 386.0 759.4 386.8 760.6 387.7 761.8 388.6 762.9 389.5 764.1 390.4 765.3 391.4 766.4 392.3 767.5 393.3 768.6 394.3 769.7 395.3 770.8 396.3 771.9 397.4 773.0 398.4 774.0 399.5 775.1 400.5 776.1 401.6 777.1 402.7 778.1 403.8 779.1 404.9 780.1 406.1 781.1 407.2 782.1 408.4 783.0 409.5 784.0 410.7 784.9 411.9 785.8 413.1 786.7 414.3 787.6 415.5 788.5 416.7 789.4 417.9 790.3 419.2 791.1 420.4 792.0 421.7 792.8 422.9 793.6 424.2 794.5 425.4 795.3 426.7 796.1 428.0 796.9 429.3 797.6 430.6 798.4 431.9 799.2 433.2 799.9 434.5 800.6 435.8 801.4 437.1 802.1 438.5 802.8 439.8 803.5 441.1 804.2 442.5 804.9 443.8 805.6 445.2 806.2 446.5 806.9 447.9 807.5 449.3 808.2 450.6 808.8 452.0 809.4 453.4 810.0 454.8 810.7 456.2 811.3 457.6 811.9 459.0 812.4 460.4 813.0 461.8 813.6 463.2 814.2 464.6 814.7 466.0 815.3 467.4 815.8 468.9 816.3 470.3 816.9 471.7 817.4 473.2 817.9 474.6 818.4 476.0 818.9 477.5 819.4 478.9 819.9 480.3 820.4 481.8 820.9 483.2 821.3 484.7 821.8 486.1 822.3 487.6 822.7 489.1 823.2 490.5 823.6 492.0 824.1 493.4 824.5 494.9 824.9 496.4 825.4 497.8 825.8 499.3 826.2 500.7 826.6 502.2 827.0 503.7 827.4 505.1 827.8 506.6 828.2 508.1 828.6 509.5 829.0 511.0 829.3 512.5 829.7 513.9 830.1 515.4 830.5 516.9 830.8 518.3 831.2 519.8 831.6 521.3 831.9 522.7 832.3 524.2 832.6 525.7 833.0 527.1 833.3 528.6 833.6 530.0 834.0 531.5 834.3 532.9 834.6 534.4 835.0 535.8 835.3 537.3 835.6 538.7 836.0 540.2 836.3 541.6 836.6 543.1 836.9 544.5 837.2 545.9 837.5 547.4 837.9 548.8 838.2 550.2 838.5" stroke="#ff0000" stroke-width="1.35" fill="none" stroke-linejoin="round" stroke-dasharray="6.1 6.3"/>
<path d="M366.6 665.0 366.7 666.4 366.7 667.9 366.7 669.3 366.8 670.7 366.8 672.2 366.8 673.7 366.9 675.1 366.9 676.6 366.9 678.1 367.0 679.6 367.0 681.1 367.0 682.6 367.0 684.2 367.1 685.7 367.1 687.2 367.1 688.7 367.2 690.3 367.2 691.8 367.3 693.3 367.4 694.9 367.4 696.4 367.5 698.0 367.6 699.5 367.7 701.1 367.8 702.6 367.9 704.2 368.0 705.7 368.1 707.2 368.3 708.8 368.4 710.3 368.6 711.9 368.8 713.4 369.0 714.9 369.2 716.5 369.5 718.0 369.7 719.5 370.0 721.0 370.3 722.5 370.6 724.0 370.9 725.5 371.2 727.0 371.6 728.4 372.0 729.9 372.4 731.4 372.8 732.8 373.2 734.2 373.7 735.7 374.2 737.1 374.7 738.5 375.2 739.9 375.8 741.3 376.3 742.6 376.9 744.0 377.5 745.3 378.2 746.7 378.8 748.0 379.5 749.3 380.2 750.6 380.9 751.8 381.7 753.1 382.5 754.3 383.3 755.5 384.1 756.7 384.9 757.9 385.8 759.1 386.7 760.3 387.6 761.4 388.5 762.6 389.4 763.7 390.4 764.8 391.4 765.9 392.4 766.9 393.4 768.0 394.4 769.0 395.5 770.1 396.5 771.1 397.6 772.1 398.7 773.1 399.8 774.1 400.9 775.1 402.1 776.0 403.2 777.0 404.4 777.9 405.6 778.9 406.8 779.8 407.9 780.7 409.2 781.6 410.4 782.5 411.6 783.3 412.8 784.2 414.1 785.1 415.3 785.9 416.6 786.7 417.9 787.6 419.1 788.4 420.4 789.2 421.7 790.0 423.0 790.8 424.3 791.6 425.6 792.4 426.9 793.1 428.2 793.9 429.5 794.6 430.8 795.4 432.2 796.1 433.5 796.9 434.8 797.6 436.1 798.3 437.5 799.0 438.8 799.7 440.1 800.4 441.5 801.1 442.8 801.8 444.2 802.5 445.5 803.2 446.9 803.8 448.2 804.5 449.6 805.2 450.9 805.8 452.3 806.4 453.7 807.1 455.0 807.7 456.4 808.4 457.8 809.0 459.1 809.6 460.5 810.2 461.9 810.8 463.3 811.4 464.6 812.0 466.0 812.6 467.4 813.2 468.8 813.8 470.2 814.4 471.6 815.0 473.0 815.5 474.4 816.1 475.8 816.7 477.2 817.2 478.6 817.8 480.0 818.4 481.4 818.9 482.8 819.5 484.2 820.0 485.6 820.5 487.0 821.1 488.4 821.6 489.8 822.2 491.3 822.7 492.7 823.2 494.1 823.7 495.5 824.3 496.9 824.8 498.4 825.3 499.8 825.8 501.2 826.3 502.6 826.8 504.1 827.4 505.5 827.9 506.9 828.3 508.4 828.8 509.8 829.3 511.2 829.8 512.7 830.3 514.1 830.7 515.5 831.2 517.0 831.7 518.4 832.1 519.9 832.5 521.3 833.0 522.7 833.4 524.2 833.8 525.6 834.2 527.1 834.6 528.5 835.0 530.0 835.4 531.4 835.8 532.8 836.2 534.3 836.5 535.7 836.9 537.2 837.2 538.6 837.5 540.1 837.8 541.5 838.1 543.0 838.4 544.4 838.7 545.9 839.0 547.3 839.2 548.8 839.5 550.2 839.7" stroke="#008000" stroke-width="2.2" fill="none" stroke-linejoin="round" stroke-dasharray="3.7 4.1"/>
<path d="M366.6 665.0 366.7 666.4 366.8 667.8 366.9 669.3 367.0 670.7 367.0 672.2 367.1 673.6 367.2 675.1 367.2 676.6 367.3 678.0 367.3 679.5 367.4 681.0 367.4 682.5 367.5 684.0 367.5 685.6 367.6 687.1 367.6 688.6 367.7 690.1 367.8 691.7 367.8 693.2 367.9 694.7 367.9 696.3 368.0 697.8 368.1 699.3 368.2 700.9 368.3 702.4 368.3 704.0 368.5 705.5 368.6 707.1 368.7 708.6 368.8 710.2 369.0 711.7 369.1 713.2 369.3 714.8 369.5 716.3 369.7 717.8 369.9 719.3 370.1 720.9 370.3 722.4 370.6 723.9 370.9 725.4 371.2 726.9 371.5 728.4 371.8 729.9 372.1 731.3 372.5 732.8 372.9 734.3 373.3 735.7 373.7 737.2 374.2 738.6 374.6 740.0 375.1 741.4 375.6 742.8 376.2 744.2 376.8 745.6 377.4 747.0 378.0 748.3 378.6 749.7 379.3 751.0 380.0 752.3 380.7 753.6 381.5 754.9 382.2 756.2 383.0 757.5 383.8 758.7 384.6 759.9 385.5 761.2 386.4 762.4 387.2 763.5 388.2 764.7 389.1 765.9 390.0 767.0 391.0 768.1 392.0 769.2 393.0 770.3 394.0 771.4 395.0 772.5 396.1 773.5 397.2 774.5 398.3 775.5 399.4 776.5 400.5 777.4 401.6 778.4 402.7 779.3 403.9 780.2 405.1 781.1 406.3 782.0 407.5 782.8 408.7 783.6 409.9 784.5 411.1 785.3 412.4 786.1 413.6 786.8 414.9 787.6 416.2 788.3 417.4 789.1 418.7 789.8 420.0 790.5 421.3 791.2 422.7 791.9 424.0 792.6 425.3 793.3 426.7 793.9 428.0 794.6 429.4 795.2 430.7 795.9 432.1 796.5 433.5 797.1 434.9 797.7 436.2 798.3 437.6 798.9 439.0 799.5 440.4 800.0 441.8 800.6 443.2 801.2 444.7 801.7 446.1 802.3 447.5 802.8 448.9 803.3 450.3 803.9 451.8 804.4 453.2 804.9 454.6 805.4 456.1 805.9 457.5 806.4 459.0 806.9 460.4 807.4 461.9 807.9 463.3 808.4 464.8 808.9 466.2 809.4 467.7 809.9 469.1 810.4 470.6 810.8 472.0 811.3 473.5 811.8 474.9 812.2 476.4 812.7 477.8 813.2 479.3 813.7 480.7 814.1 482.2 814.6 483.6 815.1 485.1 815.5 486.5 816.0 488.0 816.5 489.4 816.9 490.8 817.4 492.3 817.9 493.7 818.4 495.1 818.8 496.5 819.3 498.0 819.8 499.4 820.3 500.8 820.7 502.2 821.2 503.6 821.7 505.1 822.1 506.5 822.6 507.9 823.0 509.3 823.5 510.7 823.9 512.2 824.4 513.6 824.8 515.0 825.2 516.4 825.6 517.8 826.0 519.3 826.4 520.7 826.8 522.1 827.2 523.6 827.6 525.0 827.9 526.5 828.2 527.9 828.6 529.4 828.9 530.8 829.2 532.3 829.5 533.8 829.8 535.2 830.0 536.7 830.3 538.2 830.5 539.7 830.7 541.2 830.9 542.7 831.1 544.2 831.2 545.7 831.4 547.2 831.5 548.7 831.6 550.3 831.6" stroke="#0000ff" stroke-width="2.3" fill="none" stroke-linejoin="round" stroke-dasharray="12.2 7.6"/>
</svg>
</body></html>
